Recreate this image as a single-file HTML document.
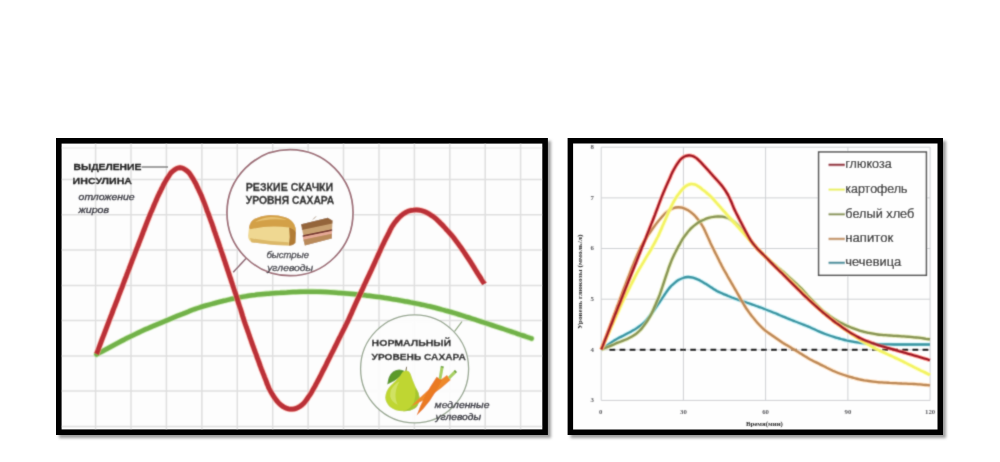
<!DOCTYPE html>
<html><head><meta charset="utf-8">
<style>
html,body{margin:0;padding:0;background:#ffffff;}
body{width:1000px;height:462px;overflow:hidden;font-family:"Liberation Sans",sans-serif;}
svg{display:block;}
.b{font-family:"Liberation Sans",sans-serif;font-weight:bold;font-size:10.2px;fill:#262626;stroke:#262626;stroke-width:0.3px;}
.b.s{font-size:9.1px;}
.b.m{font-size:9.7px;}
.b.s2{font-size:9.8px;}
.i{font-family:"Liberation Sans",sans-serif;font-style:italic;font-size:9.4px;fill:#3e3e46;stroke:#3e3e46;stroke-width:0.35px;}
.lg{font-family:"Liberation Sans",sans-serif;font-size:12.2px;fill:#282828;stroke:#282828;stroke-width:0.22px;}
.tk{font-family:"Liberation Serif",serif;font-weight:bold;font-size:6.8px;fill:#5a5a5e;}
.ax{font-family:"Liberation Serif",serif;font-weight:bold;font-size:6px;fill:#2c2c2c;}
</style></head>
<body>
<svg width="1000" height="462" viewBox="0 0 1000 462">
<defs>
<filter id="sh" x="-5%" y="-5%" width="110%" height="110%"><feGaussianBlur stdDeviation="1.6"/></filter>
<filter id="soft" x="-2%" y="-2%" width="104%" height="104%"><feConvolveMatrix order="3" kernelMatrix="1 4 1 4 20 4 1 4 1" divisor="40" edgeMode="duplicate" preserveAlpha="false"/></filter>
<clipPath id="clipL"><rect x="61.6" y="143.6" width="480.7" height="285.8"/></clipPath>
<clipPath id="clipR"><rect x="573.1" y="143.5" width="364.4" height="286.0"/></clipPath>
</defs>
<rect width="1000" height="462" fill="#ffffff"/>
<g>
<rect x="59.0" y="141.0" width="491.9" height="297.0" fill="#9c9c9c" filter="url(#sh)"/>
<rect x="56.0" y="138.0" width="491.9" height="297.0" fill="#000"/>
<rect x="61.6" y="143.6" width="480.7" height="285.8" fill="#fdfdfd"/>
<g clip-path="url(#clipL)"><g filter="url(#soft)">
<path d="M61.6,148 H542.3" stroke="#ebebeb" stroke-width="1.4" fill="none"/>
<path d="M95.6,143.6 V429.4 M131.0,143.6 V429.4 M166.4,143.6 V429.4 M201.9,143.6 V429.4 M237.3,143.6 V429.4 M272.7,143.6 V429.4 M308.1,143.6 V429.4 M343.5,143.6 V429.4 M379.0,143.6 V429.4 M414.4,143.6 V429.4 M449.8,143.6 V429.4 M485.2,143.6 V429.4 M520.6,143.6 V429.4 M61.6,179.6 H542.3 M61.6,214.8 H542.3 M61.6,250.1 H542.3 M61.6,285.4 H542.3 M61.6,320.6 H542.3 M61.6,355.9 H542.3 M61.6,391.1 H542.3 M61.6,426.4 H542.3" stroke="#dfdfdf" stroke-width="1.5" fill="none"/>
<path d="M96.5,354.5 C97.4,354.0 100.2,352.5 102.0,351.5 C103.9,350.5 105.7,349.5 107.6,348.5 C109.4,347.5 111.3,346.5 113.1,345.5 C115.0,344.5 116.8,343.5 118.7,342.5 C120.5,341.5 122.4,340.5 124.3,339.6 C126.1,338.6 128.0,337.7 129.9,336.7 C131.8,335.8 133.7,334.9 135.6,334.0 C137.5,333.1 139.5,332.2 141.4,331.3 C143.3,330.4 145.2,329.5 147.2,328.7 C149.1,327.8 151.1,326.9 153.0,326.1 C155.0,325.2 157.0,324.4 159.0,323.6 C161.0,322.7 163.0,321.9 165.0,321.1 C167.0,320.2 169.0,319.4 171.0,318.6 C172.9,317.8 174.9,317.0 176.8,316.2 C178.8,315.4 180.7,314.6 182.7,313.9 C184.6,313.1 186.5,312.3 188.4,311.6 C190.4,310.8 192.3,310.1 194.2,309.3 C196.2,308.6 198.1,307.9 200.1,307.3 C202.0,306.6 204.0,306.1 206.0,305.5 C208.0,304.9 210.0,304.4 212.0,303.9 C214.0,303.3 216.0,302.8 218.0,302.3 C220.0,301.8 222.0,301.3 224.0,300.8 C226.0,300.3 228.0,299.9 230.0,299.4 C232.0,299.0 234.0,298.5 236.1,298.1 C238.1,297.7 240.2,297.3 242.3,296.9 C244.4,296.5 246.5,296.2 248.6,295.8 C250.7,295.5 252.8,295.2 254.8,295.0 C256.9,294.7 258.9,294.5 261.0,294.3 C263.0,294.1 265.0,293.9 267.1,293.7 C269.2,293.5 271.3,293.4 273.5,293.2 C275.6,293.0 277.8,292.9 280.0,292.8 C282.2,292.6 284.4,292.5 286.7,292.4 C288.9,292.2 291.1,292.1 293.3,292.0 C295.6,292.0 297.8,291.9 300.0,291.8 C302.2,291.8 304.4,291.7 306.7,291.7 C308.9,291.7 311.1,291.7 313.3,291.7 C315.6,291.7 317.8,291.8 320.0,291.8 C322.2,291.9 324.4,292.0 326.7,292.1 C328.9,292.2 331.1,292.3 333.3,292.4 C335.6,292.6 337.8,292.7 340.0,292.9 C342.2,293.1 344.4,293.3 346.6,293.5 C348.8,293.7 351.0,293.9 353.1,294.1 C355.3,294.3 357.5,294.5 359.6,294.7 C361.7,295.0 363.9,295.2 366.0,295.4 C368.1,295.7 370.3,295.9 372.4,296.2 C374.5,296.5 376.7,296.8 378.8,297.0 C380.9,297.3 383.1,297.6 385.2,298.0 C387.3,298.3 389.5,298.6 391.6,299.0 C393.7,299.3 395.9,299.7 398.0,300.0 C400.1,300.4 402.3,300.8 404.4,301.2 C406.5,301.6 408.6,301.9 410.7,302.4 C412.9,302.8 414.9,303.2 417.0,303.6 C419.1,304.0 421.1,304.5 423.2,304.9 C425.2,305.4 427.3,305.8 429.3,306.3 C431.3,306.8 433.3,307.3 435.3,307.8 C437.3,308.3 439.3,308.8 441.2,309.4 C443.2,309.9 445.2,310.5 447.1,311.0 C449.1,311.6 451.1,312.1 453.0,312.7 C455.0,313.3 457.0,313.9 458.9,314.5 C460.9,315.1 462.8,315.7 464.8,316.3 C466.7,316.9 468.7,317.6 470.6,318.2 C472.6,318.8 474.6,319.5 476.6,320.1 C478.6,320.8 480.6,321.4 482.7,322.1 C484.8,322.8 486.9,323.5 489.0,324.2 C491.1,324.9 493.3,325.6 495.4,326.3 C497.5,327.0 499.6,327.7 501.7,328.4 C503.8,329.1 505.8,329.8 507.8,330.5 C509.9,331.2 511.8,331.8 513.8,332.5 C515.8,333.2 517.8,333.8 519.7,334.5 C521.7,335.2 523.6,335.8 525.6,336.5 C527.6,337.2 530.5,338.2 531.5,338.5" stroke="#b9e49a" stroke-width="6.2" fill="none" stroke-linecap="round" stroke-opacity="0.7"/>
<path d="M96.5,354.5 C97.4,354.0 100.2,352.5 102.0,351.5 C103.9,350.5 105.7,349.5 107.6,348.5 C109.4,347.5 111.3,346.5 113.1,345.5 C115.0,344.5 116.8,343.5 118.7,342.5 C120.5,341.5 122.4,340.5 124.3,339.6 C126.1,338.6 128.0,337.7 129.9,336.7 C131.8,335.8 133.7,334.9 135.6,334.0 C137.5,333.1 139.5,332.2 141.4,331.3 C143.3,330.4 145.2,329.5 147.2,328.7 C149.1,327.8 151.1,326.9 153.0,326.1 C155.0,325.2 157.0,324.4 159.0,323.6 C161.0,322.7 163.0,321.9 165.0,321.1 C167.0,320.2 169.0,319.4 171.0,318.6 C172.9,317.8 174.9,317.0 176.8,316.2 C178.8,315.4 180.7,314.6 182.7,313.9 C184.6,313.1 186.5,312.3 188.4,311.6 C190.4,310.8 192.3,310.1 194.2,309.3 C196.2,308.6 198.1,307.9 200.1,307.3 C202.0,306.6 204.0,306.1 206.0,305.5 C208.0,304.9 210.0,304.4 212.0,303.9 C214.0,303.3 216.0,302.8 218.0,302.3 C220.0,301.8 222.0,301.3 224.0,300.8 C226.0,300.3 228.0,299.9 230.0,299.4 C232.0,299.0 234.0,298.5 236.1,298.1 C238.1,297.7 240.2,297.3 242.3,296.9 C244.4,296.5 246.5,296.2 248.6,295.8 C250.7,295.5 252.8,295.2 254.8,295.0 C256.9,294.7 258.9,294.5 261.0,294.3 C263.0,294.1 265.0,293.9 267.1,293.7 C269.2,293.5 271.3,293.4 273.5,293.2 C275.6,293.0 277.8,292.9 280.0,292.8 C282.2,292.6 284.4,292.5 286.7,292.4 C288.9,292.2 291.1,292.1 293.3,292.0 C295.6,292.0 297.8,291.9 300.0,291.8 C302.2,291.8 304.4,291.7 306.7,291.7 C308.9,291.7 311.1,291.7 313.3,291.7 C315.6,291.7 317.8,291.8 320.0,291.8 C322.2,291.9 324.4,292.0 326.7,292.1 C328.9,292.2 331.1,292.3 333.3,292.4 C335.6,292.6 337.8,292.7 340.0,292.9 C342.2,293.1 344.4,293.3 346.6,293.5 C348.8,293.7 351.0,293.9 353.1,294.1 C355.3,294.3 357.5,294.5 359.6,294.7 C361.7,295.0 363.9,295.2 366.0,295.4 C368.1,295.7 370.3,295.9 372.4,296.2 C374.5,296.5 376.7,296.8 378.8,297.0 C380.9,297.3 383.1,297.6 385.2,298.0 C387.3,298.3 389.5,298.6 391.6,299.0 C393.7,299.3 395.9,299.7 398.0,300.0 C400.1,300.4 402.3,300.8 404.4,301.2 C406.5,301.6 408.6,301.9 410.7,302.4 C412.9,302.8 414.9,303.2 417.0,303.6 C419.1,304.0 421.1,304.5 423.2,304.9 C425.2,305.4 427.3,305.8 429.3,306.3 C431.3,306.8 433.3,307.3 435.3,307.8 C437.3,308.3 439.3,308.8 441.2,309.4 C443.2,309.9 445.2,310.5 447.1,311.0 C449.1,311.6 451.1,312.1 453.0,312.7 C455.0,313.3 457.0,313.9 458.9,314.5 C460.9,315.1 462.8,315.7 464.8,316.3 C466.7,316.9 468.7,317.6 470.6,318.2 C472.6,318.8 474.6,319.5 476.6,320.1 C478.6,320.8 480.6,321.4 482.7,322.1 C484.8,322.8 486.9,323.5 489.0,324.2 C491.1,324.9 493.3,325.6 495.4,326.3 C497.5,327.0 499.6,327.7 501.7,328.4 C503.8,329.1 505.8,329.8 507.8,330.5 C509.9,331.2 511.8,331.8 513.8,332.5 C515.8,333.2 517.8,333.8 519.7,334.5 C521.7,335.2 523.6,335.8 525.6,336.5 C527.6,337.2 530.5,338.2 531.5,338.5" stroke="#72b24a" stroke-width="4.5" fill="none" stroke-linecap="round"/>
<path d="M96.5,354.0 C96.8,353.3 97.5,351.4 98.0,350.1 C98.5,348.7 99.0,347.4 99.5,346.1 C100.0,344.8 100.5,343.5 101.0,342.2 C101.5,340.9 102.0,339.5 102.5,338.2 C103.0,336.9 103.5,335.6 104.0,334.3 C104.5,333.0 105.0,331.6 105.5,330.3 C106.0,329.0 106.5,327.7 107.0,326.4 C107.5,325.1 108.0,323.8 108.5,322.4 C109.0,321.1 109.5,319.8 110.0,318.5 C110.5,317.2 111.0,315.9 111.5,314.7 C112.0,313.4 112.5,312.1 112.9,310.8 C113.4,309.5 113.9,308.3 114.4,307.0 C114.9,305.7 115.4,304.4 115.9,303.1 C116.4,301.9 116.9,300.6 117.4,299.3 C117.9,298.0 118.4,296.7 118.8,295.4 C119.3,294.2 119.8,292.9 120.3,291.6 C120.8,290.3 121.3,289.0 121.8,287.8 C122.3,286.5 122.8,285.2 123.3,283.9 C123.8,282.6 124.2,281.4 124.7,280.1 C125.2,278.8 125.7,277.6 126.2,276.3 C126.6,275.1 127.1,273.8 127.6,272.6 C128.1,271.3 128.6,270.0 129.1,268.8 C129.5,267.5 130.0,266.3 130.5,265.0 C131.0,263.7 131.5,262.5 131.9,261.2 C132.4,260.0 132.9,258.7 133.4,257.4 C133.9,256.2 134.4,254.9 134.8,253.7 C135.3,252.4 135.8,251.2 136.3,249.9 C136.8,248.6 137.3,247.3 137.8,246.1 C138.2,244.8 138.8,243.5 139.3,242.2 C139.7,240.9 140.3,239.6 140.8,238.3 C141.3,237.0 141.8,235.7 142.3,234.4 C142.8,233.1 143.2,231.9 143.8,230.6 C144.2,229.3 144.8,228.0 145.3,226.7 C145.8,225.4 146.2,224.1 146.8,222.8 C147.3,221.5 147.7,220.2 148.3,218.9 C148.8,217.7 149.3,216.4 149.8,215.1 C150.4,213.8 150.9,212.5 151.5,211.3 C152.0,210.0 152.5,208.7 153.1,207.5 C153.6,206.2 154.2,204.9 154.7,203.6 C155.3,202.4 155.8,201.1 156.4,199.8 C156.9,198.5 157.4,197.3 158.0,196.0 C158.7,194.7 159.3,193.3 160.0,192.0 C160.7,190.7 161.3,189.3 162.0,188.0 C162.7,186.7 163.3,185.3 164.0,184.0 C164.7,182.7 165.4,181.4 166.2,180.1 C167.0,178.8 167.8,177.5 168.6,176.3 C169.4,175.1 170.2,173.7 171.1,172.7 C172.1,171.6 173.2,170.6 174.3,169.9 C175.5,169.1 176.7,168.3 178.0,168.0 C179.3,167.7 180.7,167.7 182.0,168.0 C183.3,168.3 184.5,169.1 185.7,169.9 C186.8,170.6 187.9,171.6 188.9,172.7 C189.8,173.7 190.6,175.1 191.4,176.3 C192.2,177.5 193.0,178.8 193.8,180.1 C194.5,181.4 195.2,182.6 195.9,183.9 C196.5,185.1 197.0,186.4 197.6,187.6 C198.2,188.9 198.8,190.1 199.4,191.4 C200.0,192.6 200.6,193.9 201.1,195.1 C201.7,196.4 202.2,197.7 202.7,199.0 C203.3,200.3 203.7,201.7 204.3,203.0 C204.8,204.3 205.3,205.7 205.8,207.0 C206.3,208.3 206.8,209.7 207.2,211.0 C207.8,212.3 208.3,213.7 208.8,215.0 C209.2,216.3 209.8,217.7 210.2,219.0 C210.7,220.3 211.2,221.7 211.7,223.0 C212.2,224.3 212.6,225.7 213.1,227.0 C213.5,228.3 214.0,229.7 214.4,231.0 C214.9,232.3 215.4,233.7 215.8,235.0 C216.3,236.3 216.7,237.7 217.2,239.0 C217.6,240.3 218.1,241.7 218.6,243.0 C219.0,244.3 219.5,245.7 219.9,247.0 C220.4,248.3 220.9,249.7 221.3,251.0 C221.8,252.3 222.2,253.6 222.6,254.9 C223.1,256.2 223.5,257.5 223.9,258.7 C224.3,260.0 224.8,261.3 225.2,262.5 C225.6,263.8 226.0,265.1 226.5,266.4 C226.9,267.6 227.3,268.9 227.7,270.2 C228.2,271.5 228.6,272.7 229.0,274.0 C229.4,275.3 229.8,276.5 230.3,277.8 C230.7,279.1 231.1,280.4 231.5,281.6 C232.0,282.9 232.4,284.2 232.8,285.5 C233.2,286.7 233.7,288.0 234.1,289.3 C234.5,290.5 234.9,291.8 235.4,293.1 C235.8,294.4 236.2,295.6 236.6,296.9 C237.0,298.2 237.4,299.5 237.8,300.8 C238.2,302.1 238.6,303.3 239.0,304.6 C239.4,305.9 239.8,307.2 240.3,308.5 C240.7,309.7 241.1,311.0 241.5,312.3 C241.9,313.6 242.3,314.9 242.7,316.2 C243.1,317.4 243.5,318.7 243.9,320.0 C244.3,321.3 244.8,322.5 245.2,323.8 C245.7,325.0 246.1,326.3 246.5,327.6 C247.0,328.8 247.4,330.1 247.9,331.4 C248.3,332.6 248.7,333.9 249.2,335.1 C249.6,336.4 250.0,337.7 250.5,338.9 C250.9,340.2 251.4,341.4 251.8,342.7 C252.3,344.0 252.7,345.3 253.2,346.5 C253.7,347.8 254.1,349.1 254.6,350.4 C255.1,351.7 255.5,353.0 256.0,354.2 C256.5,355.5 256.9,356.8 257.4,358.1 C257.9,359.4 258.3,360.6 258.8,361.9 C259.3,363.2 259.7,364.5 260.2,365.8 C260.7,367.0 261.1,368.3 261.6,369.6 C262.1,370.8 262.6,372.0 263.1,373.3 C263.6,374.5 264.1,375.8 264.5,377.0 C265.0,378.3 265.5,379.5 266.0,380.7 C266.5,382.0 266.9,383.2 267.4,384.5 C268.0,385.7 268.4,386.9 269.0,388.3 C269.7,389.6 270.5,391.1 271.3,392.6 C272.2,394.1 273.1,395.7 274.1,397.1 C275.1,398.6 276.2,400.2 277.4,401.5 C278.5,402.8 279.6,403.9 280.8,404.9 C282.0,405.9 283.2,406.8 284.5,407.4 C285.8,408.1 287.2,408.6 288.5,408.9 C289.8,409.1 291.2,409.2 292.5,409.1 C293.8,409.0 295.2,408.7 296.4,408.2 C297.7,407.7 299.0,407.0 300.2,406.2 C301.4,405.4 302.6,404.4 303.6,403.4 C304.6,402.4 305.5,401.2 306.3,400.1 C307.2,399.0 307.8,397.8 308.6,396.7 C309.4,395.6 310.1,394.5 310.9,393.3 C311.6,392.1 312.3,391.0 313.0,389.7 C313.7,388.5 314.3,387.3 315.0,386.1 C315.7,384.8 316.3,383.6 317.0,382.4 C317.7,381.1 318.3,379.9 319.0,378.7 C319.6,377.4 320.3,376.2 320.9,375.0 C321.5,373.8 322.1,372.6 322.7,371.3 C323.3,370.1 323.9,368.9 324.6,367.7 C325.2,366.5 325.8,365.3 326.4,364.1 C327.0,362.8 327.6,361.6 328.2,360.4 C328.8,359.2 329.4,358.0 330.0,356.8 C330.6,355.6 331.2,354.4 331.8,353.2 C332.4,352.0 333.0,350.8 333.7,349.6 C334.3,348.3 334.9,347.1 335.5,345.9 C336.1,344.7 336.7,343.5 337.3,342.3 C337.9,341.1 338.5,339.9 339.1,338.6 C339.7,337.4 340.4,336.2 341.0,334.9 C341.6,333.7 342.2,332.4 342.8,331.2 C343.5,329.9 344.1,328.7 344.7,327.5 C345.3,326.2 345.9,325.0 346.5,323.7 C347.2,322.5 347.8,321.2 348.4,320.0 C349.0,318.7 349.6,317.4 350.1,316.1 C350.7,314.8 351.3,313.5 351.9,312.2 C352.4,310.9 353.0,309.6 353.6,308.3 C354.2,307.0 354.8,305.7 355.3,304.4 C355.9,303.1 356.5,301.8 357.1,300.5 C357.7,299.2 358.3,298.0 358.9,296.7 C359.5,295.4 360.1,294.1 360.7,292.9 C361.3,291.6 361.9,290.3 362.5,289.1 C363.1,287.8 363.7,286.5 364.2,285.2 C364.8,284.0 365.4,282.7 366.0,281.4 C366.6,280.2 367.2,278.9 367.8,277.6 C368.4,276.4 369.0,275.1 369.6,273.8 C370.2,272.5 370.8,271.3 371.4,270.0 C372.0,268.7 372.6,267.4 373.1,266.2 C373.7,264.9 374.3,263.6 374.9,262.3 C375.5,261.0 376.0,259.7 376.6,258.5 C377.2,257.2 377.8,255.9 378.4,254.6 C378.9,253.3 379.5,252.1 380.1,250.8 C380.7,249.5 381.2,248.2 381.8,246.9 C382.4,245.7 383.0,244.4 383.6,243.2 C384.2,242.0 384.8,240.8 385.4,239.5 C386.0,238.3 386.6,237.1 387.3,235.9 C387.9,234.7 388.5,233.5 389.1,232.3 C389.7,231.0 390.2,229.8 390.9,228.6 C391.5,227.4 392.2,226.3 393.0,225.2 C393.7,224.1 394.5,223.0 395.3,221.9 C396.2,220.9 397.0,219.8 398.0,218.8 C398.9,217.7 399.9,216.7 401.1,215.7 C402.2,214.7 403.7,213.6 405.0,212.9 C406.3,212.1 407.5,211.5 408.9,211.0 C410.3,210.6 411.8,210.2 413.4,210.1 C415.1,209.9 417.2,209.9 418.9,210.1 C420.5,210.3 422.0,210.7 423.4,211.2 C424.9,211.7 426.4,212.4 427.7,213.1 C429.0,213.8 430.2,214.6 431.4,215.4 C432.6,216.2 433.8,216.9 434.9,217.8 C436.0,218.7 437.0,219.7 438.0,220.7 C439.1,221.7 440.1,222.7 441.1,223.8 C442.1,224.8 443.1,225.8 444.1,226.9 C445.1,227.9 446.1,229.1 447.1,230.2 C448.1,231.3 449.2,232.5 450.2,233.6 C451.2,234.7 452.2,235.9 453.1,237.0 C454.1,238.2 454.9,239.4 455.8,240.6 C456.7,241.8 457.5,243.0 458.4,244.1 C459.3,245.3 460.2,246.5 461.0,247.7 C461.8,248.9 462.6,250.1 463.4,251.2 C464.2,252.4 465.0,253.5 465.7,254.6 C466.5,255.8 467.2,256.9 468.0,258.1 C468.7,259.2 469.5,260.3 470.3,261.5 C471.0,262.7 471.8,263.8 472.5,265.1 C473.3,266.3 474.1,267.5 474.8,268.8 C475.6,270.0 476.3,271.2 477.1,272.5 C477.8,273.7 478.6,274.9 479.4,276.2 C480.2,277.4 481.0,278.7 481.8,280.0 C482.7,281.3 484.1,283.3 484.5,284.0" stroke="#ff9a90" stroke-width="6.4" fill="none" stroke-linecap="butt" stroke-linejoin="round" stroke-opacity="0.6"/>
<path d="M96.5,354.0 C96.8,353.3 97.5,351.4 98.0,350.1 C98.5,348.7 99.0,347.4 99.5,346.1 C100.0,344.8 100.5,343.5 101.0,342.2 C101.5,340.9 102.0,339.5 102.5,338.2 C103.0,336.9 103.5,335.6 104.0,334.3 C104.5,333.0 105.0,331.6 105.5,330.3 C106.0,329.0 106.5,327.7 107.0,326.4 C107.5,325.1 108.0,323.8 108.5,322.4 C109.0,321.1 109.5,319.8 110.0,318.5 C110.5,317.2 111.0,315.9 111.5,314.7 C112.0,313.4 112.5,312.1 112.9,310.8 C113.4,309.5 113.9,308.3 114.4,307.0 C114.9,305.7 115.4,304.4 115.9,303.1 C116.4,301.9 116.9,300.6 117.4,299.3 C117.9,298.0 118.4,296.7 118.8,295.4 C119.3,294.2 119.8,292.9 120.3,291.6 C120.8,290.3 121.3,289.0 121.8,287.8 C122.3,286.5 122.8,285.2 123.3,283.9 C123.8,282.6 124.2,281.4 124.7,280.1 C125.2,278.8 125.7,277.6 126.2,276.3 C126.6,275.1 127.1,273.8 127.6,272.6 C128.1,271.3 128.6,270.0 129.1,268.8 C129.5,267.5 130.0,266.3 130.5,265.0 C131.0,263.7 131.5,262.5 131.9,261.2 C132.4,260.0 132.9,258.7 133.4,257.4 C133.9,256.2 134.4,254.9 134.8,253.7 C135.3,252.4 135.8,251.2 136.3,249.9 C136.8,248.6 137.3,247.3 137.8,246.1 C138.2,244.8 138.8,243.5 139.3,242.2 C139.7,240.9 140.3,239.6 140.8,238.3 C141.3,237.0 141.8,235.7 142.3,234.4 C142.8,233.1 143.2,231.9 143.8,230.6 C144.2,229.3 144.8,228.0 145.3,226.7 C145.8,225.4 146.2,224.1 146.8,222.8 C147.3,221.5 147.7,220.2 148.3,218.9 C148.8,217.7 149.3,216.4 149.8,215.1 C150.4,213.8 150.9,212.5 151.5,211.3 C152.0,210.0 152.5,208.7 153.1,207.5 C153.6,206.2 154.2,204.9 154.7,203.6 C155.3,202.4 155.8,201.1 156.4,199.8 C156.9,198.5 157.4,197.3 158.0,196.0 C158.7,194.7 159.3,193.3 160.0,192.0 C160.7,190.7 161.3,189.3 162.0,188.0 C162.7,186.7 163.3,185.3 164.0,184.0 C164.7,182.7 165.4,181.4 166.2,180.1 C167.0,178.8 167.8,177.5 168.6,176.3 C169.4,175.1 170.2,173.7 171.1,172.7 C172.1,171.6 173.2,170.6 174.3,169.9 C175.5,169.1 176.7,168.3 178.0,168.0 C179.3,167.7 180.7,167.7 182.0,168.0 C183.3,168.3 184.5,169.1 185.7,169.9 C186.8,170.6 187.9,171.6 188.9,172.7 C189.8,173.7 190.6,175.1 191.4,176.3 C192.2,177.5 193.0,178.8 193.8,180.1 C194.5,181.4 195.2,182.6 195.9,183.9 C196.5,185.1 197.0,186.4 197.6,187.6 C198.2,188.9 198.8,190.1 199.4,191.4 C200.0,192.6 200.6,193.9 201.1,195.1 C201.7,196.4 202.2,197.7 202.7,199.0 C203.3,200.3 203.7,201.7 204.3,203.0 C204.8,204.3 205.3,205.7 205.8,207.0 C206.3,208.3 206.8,209.7 207.2,211.0 C207.8,212.3 208.3,213.7 208.8,215.0 C209.2,216.3 209.8,217.7 210.2,219.0 C210.7,220.3 211.2,221.7 211.7,223.0 C212.2,224.3 212.6,225.7 213.1,227.0 C213.5,228.3 214.0,229.7 214.4,231.0 C214.9,232.3 215.4,233.7 215.8,235.0 C216.3,236.3 216.7,237.7 217.2,239.0 C217.6,240.3 218.1,241.7 218.6,243.0 C219.0,244.3 219.5,245.7 219.9,247.0 C220.4,248.3 220.9,249.7 221.3,251.0 C221.8,252.3 222.2,253.6 222.6,254.9 C223.1,256.2 223.5,257.5 223.9,258.7 C224.3,260.0 224.8,261.3 225.2,262.5 C225.6,263.8 226.0,265.1 226.5,266.4 C226.9,267.6 227.3,268.9 227.7,270.2 C228.2,271.5 228.6,272.7 229.0,274.0 C229.4,275.3 229.8,276.5 230.3,277.8 C230.7,279.1 231.1,280.4 231.5,281.6 C232.0,282.9 232.4,284.2 232.8,285.5 C233.2,286.7 233.7,288.0 234.1,289.3 C234.5,290.5 234.9,291.8 235.4,293.1 C235.8,294.4 236.2,295.6 236.6,296.9 C237.0,298.2 237.4,299.5 237.8,300.8 C238.2,302.1 238.6,303.3 239.0,304.6 C239.4,305.9 239.8,307.2 240.3,308.5 C240.7,309.7 241.1,311.0 241.5,312.3 C241.9,313.6 242.3,314.9 242.7,316.2 C243.1,317.4 243.5,318.7 243.9,320.0 C244.3,321.3 244.8,322.5 245.2,323.8 C245.7,325.0 246.1,326.3 246.5,327.6 C247.0,328.8 247.4,330.1 247.9,331.4 C248.3,332.6 248.7,333.9 249.2,335.1 C249.6,336.4 250.0,337.7 250.5,338.9 C250.9,340.2 251.4,341.4 251.8,342.7 C252.3,344.0 252.7,345.3 253.2,346.5 C253.7,347.8 254.1,349.1 254.6,350.4 C255.1,351.7 255.5,353.0 256.0,354.2 C256.5,355.5 256.9,356.8 257.4,358.1 C257.9,359.4 258.3,360.6 258.8,361.9 C259.3,363.2 259.7,364.5 260.2,365.8 C260.7,367.0 261.1,368.3 261.6,369.6 C262.1,370.8 262.6,372.0 263.1,373.3 C263.6,374.5 264.1,375.8 264.5,377.0 C265.0,378.3 265.5,379.5 266.0,380.7 C266.5,382.0 266.9,383.2 267.4,384.5 C268.0,385.7 268.4,386.9 269.0,388.3 C269.7,389.6 270.5,391.1 271.3,392.6 C272.2,394.1 273.1,395.7 274.1,397.1 C275.1,398.6 276.2,400.2 277.4,401.5 C278.5,402.8 279.6,403.9 280.8,404.9 C282.0,405.9 283.2,406.8 284.5,407.4 C285.8,408.1 287.2,408.6 288.5,408.9 C289.8,409.1 291.2,409.2 292.5,409.1 C293.8,409.0 295.2,408.7 296.4,408.2 C297.7,407.7 299.0,407.0 300.2,406.2 C301.4,405.4 302.6,404.4 303.6,403.4 C304.6,402.4 305.5,401.2 306.3,400.1 C307.2,399.0 307.8,397.8 308.6,396.7 C309.4,395.6 310.1,394.5 310.9,393.3 C311.6,392.1 312.3,391.0 313.0,389.7 C313.7,388.5 314.3,387.3 315.0,386.1 C315.7,384.8 316.3,383.6 317.0,382.4 C317.7,381.1 318.3,379.9 319.0,378.7 C319.6,377.4 320.3,376.2 320.9,375.0 C321.5,373.8 322.1,372.6 322.7,371.3 C323.3,370.1 323.9,368.9 324.6,367.7 C325.2,366.5 325.8,365.3 326.4,364.1 C327.0,362.8 327.6,361.6 328.2,360.4 C328.8,359.2 329.4,358.0 330.0,356.8 C330.6,355.6 331.2,354.4 331.8,353.2 C332.4,352.0 333.0,350.8 333.7,349.6 C334.3,348.3 334.9,347.1 335.5,345.9 C336.1,344.7 336.7,343.5 337.3,342.3 C337.9,341.1 338.5,339.9 339.1,338.6 C339.7,337.4 340.4,336.2 341.0,334.9 C341.6,333.7 342.2,332.4 342.8,331.2 C343.5,329.9 344.1,328.7 344.7,327.5 C345.3,326.2 345.9,325.0 346.5,323.7 C347.2,322.5 347.8,321.2 348.4,320.0 C349.0,318.7 349.6,317.4 350.1,316.1 C350.7,314.8 351.3,313.5 351.9,312.2 C352.4,310.9 353.0,309.6 353.6,308.3 C354.2,307.0 354.8,305.7 355.3,304.4 C355.9,303.1 356.5,301.8 357.1,300.5 C357.7,299.2 358.3,298.0 358.9,296.7 C359.5,295.4 360.1,294.1 360.7,292.9 C361.3,291.6 361.9,290.3 362.5,289.1 C363.1,287.8 363.7,286.5 364.2,285.2 C364.8,284.0 365.4,282.7 366.0,281.4 C366.6,280.2 367.2,278.9 367.8,277.6 C368.4,276.4 369.0,275.1 369.6,273.8 C370.2,272.5 370.8,271.3 371.4,270.0 C372.0,268.7 372.6,267.4 373.1,266.2 C373.7,264.9 374.3,263.6 374.9,262.3 C375.5,261.0 376.0,259.7 376.6,258.5 C377.2,257.2 377.8,255.9 378.4,254.6 C378.9,253.3 379.5,252.1 380.1,250.8 C380.7,249.5 381.2,248.2 381.8,246.9 C382.4,245.7 383.0,244.4 383.6,243.2 C384.2,242.0 384.8,240.8 385.4,239.5 C386.0,238.3 386.6,237.1 387.3,235.9 C387.9,234.7 388.5,233.5 389.1,232.3 C389.7,231.0 390.2,229.8 390.9,228.6 C391.5,227.4 392.2,226.3 393.0,225.2 C393.7,224.1 394.5,223.0 395.3,221.9 C396.2,220.9 397.0,219.8 398.0,218.8 C398.9,217.7 399.9,216.7 401.1,215.7 C402.2,214.7 403.7,213.6 405.0,212.9 C406.3,212.1 407.5,211.5 408.9,211.0 C410.3,210.6 411.8,210.2 413.4,210.1 C415.1,209.9 417.2,209.9 418.9,210.1 C420.5,210.3 422.0,210.7 423.4,211.2 C424.9,211.7 426.4,212.4 427.7,213.1 C429.0,213.8 430.2,214.6 431.4,215.4 C432.6,216.2 433.8,216.9 434.9,217.8 C436.0,218.7 437.0,219.7 438.0,220.7 C439.1,221.7 440.1,222.7 441.1,223.8 C442.1,224.8 443.1,225.8 444.1,226.9 C445.1,227.9 446.1,229.1 447.1,230.2 C448.1,231.3 449.2,232.5 450.2,233.6 C451.2,234.7 452.2,235.9 453.1,237.0 C454.1,238.2 454.9,239.4 455.8,240.6 C456.7,241.8 457.5,243.0 458.4,244.1 C459.3,245.3 460.2,246.5 461.0,247.7 C461.8,248.9 462.6,250.1 463.4,251.2 C464.2,252.4 465.0,253.5 465.7,254.6 C466.5,255.8 467.2,256.9 468.0,258.1 C468.7,259.2 469.5,260.3 470.3,261.5 C471.0,262.7 471.8,263.8 472.5,265.1 C473.3,266.3 474.1,267.5 474.8,268.8 C475.6,270.0 476.3,271.2 477.1,272.5 C477.8,273.7 478.6,274.9 479.4,276.2 C480.2,277.4 481.0,278.7 481.8,280.0 C482.7,281.3 484.1,283.3 484.5,284.0" stroke="#b6252e" stroke-width="4.8" fill="none" stroke-linecap="butt" stroke-linejoin="round" stroke-opacity="0.93"/>
<line x1="246" y1="258.5" x2="233.2" y2="272.2" stroke="#8c6470" stroke-width="1.4"/>
<circle cx="290" cy="212.7" r="63" fill="#fdfdfd" stroke="#9c6a74" stroke-width="1.7"/>
<g><path d="M248.9,228 Q250,221 254.6,218.8 Q261,215.6 269.2,215.1 Q278,214.9 285.5,217.2 Q292,219.5 294.4,224.5 Q296.3,228.5 296,232.6 L295.4,243 Q293,246 288.7,245.6 Q270,245.2 251.4,242.3 Q248,240 248.1,235.8 Z" fill="#efd892"/><path d="M248.9,228 Q250,221 254.6,218.8 Q261,215.6 269.2,215.1 Q278,214.9 285.5,217.2 Q292,219.5 294.4,224.5 Q296.3,228.5 296,232.6 Q294.5,228.5 289,227.6 Q270,224.6 250.5,229.2 Z" fill="#d3a046"/><path d="M255,222 Q262,217.4 271,217 Q280,217 287,220 Q278,218.8 270,219.4 Q262,220 255,222 Z" fill="#e6c070"/><path d="M289,227.6 Q294.5,228.5 296,232.6 L295.4,243 Q293,246 288.7,245.6 Q290.5,237 289,227.6 Z" fill="#b27c34"/><path d="M250,238 Q270,241.8 288.5,242.2 L288.7,245.6 Q270,245.2 251.4,242.3 Z" fill="#dcb868"/></g>
<g><path d="M301,224.3 L327.7,217.7 L332.5,220.4 L331.8,238.4 L304.9,245.4 L301.7,227 Z" fill="#c9a272"/><path d="M301,224.3 L327.7,217.7 L332.5,220.4 L332.4,223.6 L301.9,230 L301.7,227 Z" fill="#94653a"/><path d="M302.6,235.2 L332.1,229.2 L332.1,231 L302.8,237 Z" fill="#6e2626"/><path d="M302.8,237 L332.1,231 L332,233.8 L303.2,239.8 Z" fill="#e6a896"/><path d="M303.2,239.8 L332,233.8 L331.8,238.4 L304.9,245.4 Z" fill="#b98a5a"/><path d="M313,219.5 L316,216.4" stroke="#7a5a3a" stroke-width="0.6" fill="none"/></g>
<text x="245.8" y="190.6" class="b" textLength="87.4" lengthAdjust="spacingAndGlyphs">РЕЗКИЕ СКАЧКИ</text>
<text x="245.8" y="203.6" class="b" textLength="88.4" lengthAdjust="spacingAndGlyphs">УРОВНЯ САХАРА</text>
<text x="266.4" y="258.2" class="i" textLength="42.6" lengthAdjust="spacingAndGlyphs">быстрые</text>
<text x="267.2" y="271.2" class="i" textLength="46" lengthAdjust="spacingAndGlyphs">углеводы</text>
<line x1="454.5" y1="331.5" x2="462" y2="321.5" stroke="#8aa27c" stroke-width="1.2"/>
<circle cx="414.6" cy="368.8" r="54" fill="#fdfdfd" fill-opacity="0.94" stroke="#96a690" stroke-width="1.3"/>
<g><path d="M405.5,371.4 Q399,367.6 393,371.6 Q388,375.5 387.3,384.6 Q390,383 394.2,381 Q399,378 405.5,371.4 Z" fill="#5c9a2c"/><path d="M406.6,366.8 L405.9,371.2" stroke="#6a5a2a" stroke-width="1" fill="none"/><path d="M405.5,370.6 Q409,370.2 410.7,374 Q412.6,380 415.4,386.2 Q419.2,392 419.7,398.3 Q419.6,404 415.9,407.8 Q410,411.8 402.9,411.3 Q395,411 389.9,406.9 Q385.4,402.6 385.2,397.4 Q385.6,390.6 390.8,385.3 Q396,380.6 400.3,375.8 Q402.6,371.2 405.5,370.6 Z" fill="#bfd632"/><path d="M391,390 Q394,384 399.5,381.5 Q396,387 395.5,394 Q395.2,401 398,405 Q391.5,402 390.2,396.5 Q390,393 391,390 Z" fill="#d2e46c" fill-opacity="0.85"/><path d="M415.4,388 Q419.2,392 419.7,398.3 Q419.6,404 415.9,407.8 Q410,411.8 402.9,411.3 Q411,409 414,402 Q416,396 415.4,388 Z" fill="#9dc22e" fill-opacity="0.8"/></g>
<g><path d="M411.2,406.3 Q426,390.5 446.9,375 L450.7,380 Q431.5,398 411.2,406.3 Z" fill="#ee8a2c"/><path d="M416.6,415.4 Q423,396.5 436.6,376.7 L442,380.1 Q431,403.5 416.6,415.4 Z" fill="#ea7a20"/><path d="M438.6,378.6 L440.4,367.6 L443.6,368 L441.4,379.6 Z" fill="#a8d060"/><path d="M448,376.8 L453.6,371 L455.8,373.4 L450,379.2 Z" fill="#a8d060"/><path d="M440.4,367.6 L441,365.8 L443.8,366.4 L443.6,368 Z M453.6,371 L455,369.8 L457,372 L455.8,373.4 Z" fill="#6aa32c"/></g>
<text x="371.6" y="346.2" class="b m" textLength="79.6" lengthAdjust="spacingAndGlyphs">НОРМАЛЬНЫЙ</text>
<text x="371.6" y="360.2" class="b m" textLength="94.2" lengthAdjust="spacingAndGlyphs">УРОВЕНЬ САХАРА</text>
<text x="434.6" y="408" class="i" textLength="54.8" lengthAdjust="spacingAndGlyphs">медленные</text>
<text x="435.4" y="420.3" class="i" textLength="45.6" lengthAdjust="spacingAndGlyphs">углеводы</text>
<line x1="141.5" y1="167" x2="168" y2="167" stroke="#666" stroke-width="1.2"/>
<text x="73.6" y="170.3" class="b s" textLength="67.8" lengthAdjust="spacingAndGlyphs">ВЫДЕЛЕНИЕ</text>
<text x="72.6" y="183.8" class="b s2" textLength="59.4" lengthAdjust="spacingAndGlyphs">ИНСУЛИНА</text>
<text x="78.6" y="200" class="i" textLength="56" lengthAdjust="spacingAndGlyphs">отложение</text>
<text x="78.6" y="212.6" class="i" textLength="30.4" lengthAdjust="spacingAndGlyphs">жиров</text>
</g></g>
<rect x="570.6" y="141.0" width="375.4" height="297.0" fill="#9c9c9c" filter="url(#sh)"/>
<rect x="567.6" y="138.0" width="375.4" height="297.0" fill="#000"/>
<rect x="573.1" y="143.5" width="364.4" height="286.0" fill="#fefefe"/>
<g clip-path="url(#clipR)"><g filter="url(#soft)">
<path d="M601.2,147.2 V400.4 M683.4,147.2 V400.4 M765.6,147.2 V400.4 M847.9,147.2 V400.4 M930.1,147.2 V400.4 M601.2,400.4 H930.1 M601.2,349.8 H930.1 M601.2,299.2 H930.1 M601.2,248.5 H930.1 M601.2,197.9 H930.1 M601.2,147.2 H930.1" stroke="#cfd1d4" stroke-width="1" fill="none"/>
<path d="M609.4,349.8 H930.1" stroke="#1c1c1c" stroke-width="2" stroke-dasharray="5.9 4.2" fill="none"/>
<path d="M601.3,349.5 C601.9,349.0 603.9,347.6 605.1,346.8 C606.4,345.9 607.7,344.9 608.9,344.1 C610.1,343.3 611.2,342.6 612.4,341.8 C613.6,341.0 614.6,340.3 615.9,339.6 C617.1,338.8 618.5,338.1 619.9,337.3 C621.3,336.6 623.0,335.8 624.5,335.0 C626.1,334.2 627.7,333.4 629.2,332.6 C630.6,331.8 632.0,331.1 633.3,330.3 C634.5,329.6 635.6,328.9 636.8,328.1 C638.0,327.3 639.1,326.5 640.3,325.6 C641.5,324.7 642.7,323.8 643.8,322.8 C644.9,321.9 646.0,320.8 646.9,319.7 C647.8,318.7 648.6,317.5 649.5,316.4 C650.3,315.2 651.1,314.1 652.0,312.9 C652.8,311.8 653.7,310.7 654.5,309.5 C655.3,308.4 656.1,307.2 656.9,306.1 C657.7,305.0 658.5,303.8 659.2,302.7 C660.0,301.6 660.7,300.5 661.5,299.3 C662.2,298.2 663.0,297.1 663.7,296.0 C664.5,294.8 665.2,293.7 666.0,292.6 C666.8,291.4 667.5,290.3 668.4,289.2 C669.3,288.0 670.4,286.9 671.4,285.8 C672.5,284.7 673.6,283.7 674.7,282.8 C675.9,281.8 677.1,280.9 678.4,280.1 C679.8,279.3 681.4,278.5 683.0,278.0 C684.6,277.4 686.3,277.1 688.0,277.0 C689.7,276.9 691.3,277.2 692.9,277.6 C694.5,278.0 696.1,278.7 697.6,279.4 C699.1,280.0 700.4,280.8 701.8,281.5 C703.1,282.3 704.4,283.0 705.7,283.8 C707.0,284.6 708.3,285.4 709.5,286.2 C710.8,287.0 712.0,287.9 713.2,288.7 C714.5,289.5 715.7,290.4 716.9,291.1 C718.2,291.8 719.4,292.3 720.7,292.8 C721.9,293.4 723.2,293.9 724.4,294.4 C725.7,294.9 726.9,295.4 728.2,296.0 C729.4,296.5 730.7,297.0 731.9,297.5 C733.2,298.0 734.6,298.5 735.9,299.0 C737.3,299.5 738.7,299.9 740.1,300.4 C741.5,300.9 743.0,301.3 744.4,301.8 C745.8,302.3 747.2,302.7 748.6,303.2 C749.9,303.7 751.3,304.1 752.6,304.6 C753.8,305.0 755.1,305.5 756.3,306.0 C757.6,306.4 758.8,306.9 760.1,307.3 C761.3,307.8 762.6,308.3 763.8,308.7 C765.1,309.2 766.4,309.7 767.6,310.2 C768.9,310.7 770.2,311.2 771.5,311.7 C772.8,312.3 774.1,312.8 775.4,313.3 C776.7,313.9 778.0,314.4 779.3,315.0 C780.6,315.5 781.9,316.0 783.2,316.6 C784.5,317.1 785.8,317.7 787.1,318.2 C788.3,318.7 789.6,319.2 790.9,319.7 C792.2,320.3 793.5,320.8 794.7,321.3 C796.0,321.8 797.3,322.3 798.5,322.8 C799.8,323.3 801.1,323.8 802.4,324.3 C803.6,324.8 804.9,325.3 806.2,325.8 C807.4,326.3 808.7,326.8 810.0,327.3 C811.2,327.9 812.5,328.5 813.7,329.0 C815.0,329.6 816.2,330.2 817.4,330.7 C818.7,331.3 819.9,331.9 821.2,332.4 C822.5,333.0 823.8,333.5 825.2,334.0 C826.6,334.5 828.1,335.0 829.5,335.5 C830.9,336.0 832.4,336.5 833.8,336.9 C835.3,337.4 836.7,337.8 838.2,338.2 C839.6,338.7 841.1,339.0 842.5,339.4 C843.9,339.8 845.4,340.2 846.8,340.5 C848.3,340.8 849.7,341.2 851.2,341.4 C852.6,341.7 854.1,341.9 855.5,342.1 C856.9,342.4 858.4,342.6 859.8,342.8 C861.3,343.0 862.8,343.2 864.2,343.3 C865.7,343.5 867.2,343.5 868.7,343.6 C870.2,343.7 871.7,343.8 873.1,343.9 C874.6,344.0 876.1,344.1 877.5,344.2 C878.9,344.2 880.3,344.2 881.6,344.3 C883.0,344.3 884.3,344.3 885.7,344.3 C887.0,344.4 888.4,344.4 889.7,344.4 C891.1,344.4 892.4,344.4 893.8,344.5 C895.1,344.5 896.5,344.5 897.8,344.5 C899.2,344.5 900.5,344.5 901.8,344.5 C903.2,344.5 904.5,344.5 905.9,344.5 C907.2,344.5 908.5,344.5 909.9,344.5 C911.2,344.5 912.6,344.5 913.9,344.5 C915.2,344.5 916.6,344.5 917.9,344.5 C919.3,344.5 920.6,344.5 922.0,344.5 C923.3,344.5 924.6,344.5 926.0,344.5 C927.3,344.5 929.3,344.5 930.0,344.5" stroke="#9fe6f0" stroke-width="4.2" fill="none" stroke-opacity="0.6"/><path d="M601.3,349.5 C601.9,349.0 603.9,347.6 605.1,346.8 C606.4,345.9 607.7,344.9 608.9,344.1 C610.1,343.3 611.2,342.6 612.4,341.8 C613.6,341.0 614.6,340.3 615.9,339.6 C617.1,338.8 618.5,338.1 619.9,337.3 C621.3,336.6 623.0,335.8 624.5,335.0 C626.1,334.2 627.7,333.4 629.2,332.6 C630.6,331.8 632.0,331.1 633.3,330.3 C634.5,329.6 635.6,328.9 636.8,328.1 C638.0,327.3 639.1,326.5 640.3,325.6 C641.5,324.7 642.7,323.8 643.8,322.8 C644.9,321.9 646.0,320.8 646.9,319.7 C647.8,318.7 648.6,317.5 649.5,316.4 C650.3,315.2 651.1,314.1 652.0,312.9 C652.8,311.8 653.7,310.7 654.5,309.5 C655.3,308.4 656.1,307.2 656.9,306.1 C657.7,305.0 658.5,303.8 659.2,302.7 C660.0,301.6 660.7,300.5 661.5,299.3 C662.2,298.2 663.0,297.1 663.7,296.0 C664.5,294.8 665.2,293.7 666.0,292.6 C666.8,291.4 667.5,290.3 668.4,289.2 C669.3,288.0 670.4,286.9 671.4,285.8 C672.5,284.7 673.6,283.7 674.7,282.8 C675.9,281.8 677.1,280.9 678.4,280.1 C679.8,279.3 681.4,278.5 683.0,278.0 C684.6,277.4 686.3,277.1 688.0,277.0 C689.7,276.9 691.3,277.2 692.9,277.6 C694.5,278.0 696.1,278.7 697.6,279.4 C699.1,280.0 700.4,280.8 701.8,281.5 C703.1,282.3 704.4,283.0 705.7,283.8 C707.0,284.6 708.3,285.4 709.5,286.2 C710.8,287.0 712.0,287.9 713.2,288.7 C714.5,289.5 715.7,290.4 716.9,291.1 C718.2,291.8 719.4,292.3 720.7,292.8 C721.9,293.4 723.2,293.9 724.4,294.4 C725.7,294.9 726.9,295.4 728.2,296.0 C729.4,296.5 730.7,297.0 731.9,297.5 C733.2,298.0 734.6,298.5 735.9,299.0 C737.3,299.5 738.7,299.9 740.1,300.4 C741.5,300.9 743.0,301.3 744.4,301.8 C745.8,302.3 747.2,302.7 748.6,303.2 C749.9,303.7 751.3,304.1 752.6,304.6 C753.8,305.0 755.1,305.5 756.3,306.0 C757.6,306.4 758.8,306.9 760.1,307.3 C761.3,307.8 762.6,308.3 763.8,308.7 C765.1,309.2 766.4,309.7 767.6,310.2 C768.9,310.7 770.2,311.2 771.5,311.7 C772.8,312.3 774.1,312.8 775.4,313.3 C776.7,313.9 778.0,314.4 779.3,315.0 C780.6,315.5 781.9,316.0 783.2,316.6 C784.5,317.1 785.8,317.7 787.1,318.2 C788.3,318.7 789.6,319.2 790.9,319.7 C792.2,320.3 793.5,320.8 794.7,321.3 C796.0,321.8 797.3,322.3 798.5,322.8 C799.8,323.3 801.1,323.8 802.4,324.3 C803.6,324.8 804.9,325.3 806.2,325.8 C807.4,326.3 808.7,326.8 810.0,327.3 C811.2,327.9 812.5,328.5 813.7,329.0 C815.0,329.6 816.2,330.2 817.4,330.7 C818.7,331.3 819.9,331.9 821.2,332.4 C822.5,333.0 823.8,333.5 825.2,334.0 C826.6,334.5 828.1,335.0 829.5,335.5 C830.9,336.0 832.4,336.5 833.8,336.9 C835.3,337.4 836.7,337.8 838.2,338.2 C839.6,338.7 841.1,339.0 842.5,339.4 C843.9,339.8 845.4,340.2 846.8,340.5 C848.3,340.8 849.7,341.2 851.2,341.4 C852.6,341.7 854.1,341.9 855.5,342.1 C856.9,342.4 858.4,342.6 859.8,342.8 C861.3,343.0 862.8,343.2 864.2,343.3 C865.7,343.5 867.2,343.5 868.7,343.6 C870.2,343.7 871.7,343.8 873.1,343.9 C874.6,344.0 876.1,344.1 877.5,344.2 C878.9,344.2 880.3,344.2 881.6,344.3 C883.0,344.3 884.3,344.3 885.7,344.3 C887.0,344.4 888.4,344.4 889.7,344.4 C891.1,344.4 892.4,344.4 893.8,344.5 C895.1,344.5 896.5,344.5 897.8,344.5 C899.2,344.5 900.5,344.5 901.8,344.5 C903.2,344.5 904.5,344.5 905.9,344.5 C907.2,344.5 908.5,344.5 909.9,344.5 C911.2,344.5 912.6,344.5 913.9,344.5 C915.2,344.5 916.6,344.5 917.9,344.5 C919.3,344.5 920.6,344.5 922.0,344.5 C923.3,344.5 924.6,344.5 926.0,344.5 C927.3,344.5 929.3,344.5 930.0,344.5" stroke="#3d96a3" stroke-width="2.3" fill="none" stroke-linejoin="round"/>
<path d="M601.3,349.5 C601.5,348.9 602.3,346.9 602.7,345.6 C603.2,344.3 603.7,343.1 604.2,341.8 C604.6,340.5 605.1,339.2 605.6,337.9 C606.1,336.6 606.5,335.3 607.0,334.0 C607.5,332.7 608.0,331.5 608.4,330.2 C608.9,328.9 609.4,327.6 609.9,326.3 C610.3,325.0 610.8,323.7 611.3,322.4 C611.8,321.2 612.2,319.9 612.7,318.6 C613.2,317.3 613.6,316.1 614.1,314.8 C614.6,313.5 615.1,312.3 615.5,311.0 C616.0,309.7 616.5,308.5 616.9,307.2 C617.4,305.9 617.9,304.7 618.4,303.4 C618.8,302.1 619.3,300.9 619.8,299.6 C620.2,298.3 620.7,297.1 621.2,295.8 C621.7,294.5 622.1,293.3 622.6,292.0 C623.1,290.7 623.6,289.3 624.1,288.0 C624.6,286.7 625.2,285.3 625.7,284.0 C626.2,282.7 626.7,281.3 627.2,280.0 C627.7,278.7 628.2,277.3 628.8,276.0 C629.3,274.7 629.8,273.3 630.3,272.0 C630.8,270.7 631.3,269.3 631.8,268.0 C632.3,266.7 632.9,265.4 633.4,264.2 C633.9,262.9 634.4,261.7 634.9,260.5 C635.5,259.2 636.0,258.0 636.5,256.8 C637.0,255.5 637.5,254.3 638.1,253.1 C638.6,251.8 639.1,250.6 639.7,249.4 C640.2,248.2 640.8,247.0 641.5,245.8 C642.2,244.6 642.9,243.5 643.6,242.3 C644.3,241.2 645.1,240.0 645.8,238.9 C646.5,237.7 647.2,236.6 647.9,235.4 C648.7,234.3 649.5,233.1 650.3,232.0 C651.1,230.8 651.9,229.7 652.7,228.5 C653.6,227.4 654.4,226.2 655.2,225.1 C656.1,223.9 656.9,222.8 657.8,221.7 C658.7,220.5 659.6,219.5 660.6,218.4 C661.6,217.3 662.5,216.3 663.5,215.2 C664.5,214.1 665.5,213.0 666.8,212.1 C668.0,211.1 669.4,210.1 670.9,209.3 C672.4,208.5 673.8,207.8 675.7,207.5 C677.5,207.2 679.9,207.2 682.0,207.6 C684.0,208.1 686.4,209.3 688.1,210.2 C689.9,211.2 691.1,212.3 692.3,213.4 C693.6,214.4 694.6,215.4 695.6,216.6 C696.7,217.7 697.6,219.0 698.6,220.2 C699.5,221.4 700.4,222.7 701.3,224.0 C702.1,225.3 702.8,226.5 703.5,227.8 C704.2,229.1 704.7,230.3 705.3,231.6 C705.9,232.8 706.4,234.1 707.0,235.3 C707.6,236.6 708.1,237.9 708.7,239.1 C709.3,240.4 709.9,241.7 710.4,242.9 C711.0,244.2 711.6,245.4 712.2,246.7 C712.9,247.9 713.5,249.2 714.1,250.4 C714.7,251.7 715.3,252.9 716.0,254.2 C716.6,255.4 717.2,256.7 717.8,257.9 C718.5,259.2 719.1,260.4 719.7,261.7 C720.3,262.9 720.9,264.2 721.6,265.4 C722.2,266.6 722.9,267.9 723.5,269.1 C724.2,270.3 724.9,271.5 725.6,272.7 C726.3,273.9 727.0,275.1 727.6,276.3 C728.3,277.4 729.0,278.6 729.7,279.8 C730.4,281.0 731.1,282.2 731.7,283.4 C732.4,284.6 733.1,285.8 733.8,287.0 C734.5,288.2 735.2,289.4 735.9,290.6 C736.5,291.8 737.2,293.0 737.9,294.2 C738.6,295.4 739.3,296.6 740.0,297.8 C740.6,299.0 741.3,300.2 742.0,301.4 C742.7,302.6 743.4,303.8 744.1,305.0 C744.9,306.2 745.7,307.5 746.5,308.8 C747.4,310.0 748.3,311.3 749.2,312.6 C750.2,313.9 751.1,315.2 752.1,316.4 C753.1,317.7 754.1,318.9 755.1,320.1 C756.2,321.4 757.2,322.6 758.3,323.8 C759.3,324.9 760.4,326.1 761.6,327.2 C762.7,328.3 763.9,329.4 765.0,330.3 C766.2,331.3 767.4,332.1 768.6,333.0 C769.8,333.9 771.0,334.7 772.2,335.5 C773.4,336.4 774.6,337.2 775.8,338.0 C777.0,338.9 778.2,339.7 779.4,340.5 C780.6,341.3 781.8,342.1 783.0,342.9 C784.2,343.6 785.4,344.3 786.6,345.1 C787.8,345.8 789.0,346.5 790.3,347.2 C791.5,348.0 792.7,348.7 793.9,349.4 C795.1,350.1 796.3,350.9 797.5,351.6 C798.7,352.3 799.9,353.1 801.1,353.8 C802.3,354.5 803.5,355.3 804.6,356.0 C805.8,356.7 807.0,357.5 808.2,358.2 C809.4,358.9 810.6,359.6 811.9,360.2 C813.1,360.9 814.3,361.5 815.6,362.1 C816.8,362.7 818.0,363.3 819.3,363.9 C820.5,364.6 821.8,365.2 823.0,365.8 C824.2,366.4 825.5,367.0 826.7,367.7 C828.0,368.3 829.2,368.9 830.4,369.5 C831.7,370.1 832.9,370.8 834.2,371.3 C835.5,371.9 836.8,372.5 838.2,373.0 C839.6,373.5 841.1,374.0 842.5,374.5 C843.9,375.0 845.4,375.5 846.8,375.9 C848.3,376.4 849.7,376.8 851.2,377.2 C852.6,377.7 854.1,378.0 855.5,378.4 C856.9,378.8 858.4,379.2 859.8,379.5 C861.3,379.8 862.8,380.1 864.2,380.4 C865.7,380.6 867.2,380.8 868.7,381.0 C870.2,381.2 871.7,381.4 873.1,381.6 C874.6,381.8 876.1,382.0 877.5,382.1 C878.9,382.3 880.3,382.3 881.6,382.4 C883.0,382.5 884.3,382.6 885.7,382.6 C887.0,382.7 888.4,382.8 889.7,382.9 C891.1,382.9 892.4,383.0 893.8,383.1 C895.1,383.2 896.5,383.2 897.8,383.3 C899.2,383.3 900.5,383.4 901.9,383.5 C903.2,383.5 904.6,383.6 905.9,383.6 C907.3,383.7 908.6,383.8 910.0,383.8 C911.3,383.9 912.6,383.9 914.0,384.0 C915.3,384.1 916.7,384.2 918.0,384.3 C919.3,384.4 920.7,384.5 922.0,384.6 C923.3,384.8 924.7,384.9 926.0,385.0 C927.3,385.1 929.3,385.2 930.0,385.3" stroke="#ffd0a0" stroke-width="4.2" fill="none" stroke-opacity="0.6"/><path d="M601.3,349.5 C601.5,348.9 602.3,346.9 602.7,345.6 C603.2,344.3 603.7,343.1 604.2,341.8 C604.6,340.5 605.1,339.2 605.6,337.9 C606.1,336.6 606.5,335.3 607.0,334.0 C607.5,332.7 608.0,331.5 608.4,330.2 C608.9,328.9 609.4,327.6 609.9,326.3 C610.3,325.0 610.8,323.7 611.3,322.4 C611.8,321.2 612.2,319.9 612.7,318.6 C613.2,317.3 613.6,316.1 614.1,314.8 C614.6,313.5 615.1,312.3 615.5,311.0 C616.0,309.7 616.5,308.5 616.9,307.2 C617.4,305.9 617.9,304.7 618.4,303.4 C618.8,302.1 619.3,300.9 619.8,299.6 C620.2,298.3 620.7,297.1 621.2,295.8 C621.7,294.5 622.1,293.3 622.6,292.0 C623.1,290.7 623.6,289.3 624.1,288.0 C624.6,286.7 625.2,285.3 625.7,284.0 C626.2,282.7 626.7,281.3 627.2,280.0 C627.7,278.7 628.2,277.3 628.8,276.0 C629.3,274.7 629.8,273.3 630.3,272.0 C630.8,270.7 631.3,269.3 631.8,268.0 C632.3,266.7 632.9,265.4 633.4,264.2 C633.9,262.9 634.4,261.7 634.9,260.5 C635.5,259.2 636.0,258.0 636.5,256.8 C637.0,255.5 637.5,254.3 638.1,253.1 C638.6,251.8 639.1,250.6 639.7,249.4 C640.2,248.2 640.8,247.0 641.5,245.8 C642.2,244.6 642.9,243.5 643.6,242.3 C644.3,241.2 645.1,240.0 645.8,238.9 C646.5,237.7 647.2,236.6 647.9,235.4 C648.7,234.3 649.5,233.1 650.3,232.0 C651.1,230.8 651.9,229.7 652.7,228.5 C653.6,227.4 654.4,226.2 655.2,225.1 C656.1,223.9 656.9,222.8 657.8,221.7 C658.7,220.5 659.6,219.5 660.6,218.4 C661.6,217.3 662.5,216.3 663.5,215.2 C664.5,214.1 665.5,213.0 666.8,212.1 C668.0,211.1 669.4,210.1 670.9,209.3 C672.4,208.5 673.8,207.8 675.7,207.5 C677.5,207.2 679.9,207.2 682.0,207.6 C684.0,208.1 686.4,209.3 688.1,210.2 C689.9,211.2 691.1,212.3 692.3,213.4 C693.6,214.4 694.6,215.4 695.6,216.6 C696.7,217.7 697.6,219.0 698.6,220.2 C699.5,221.4 700.4,222.7 701.3,224.0 C702.1,225.3 702.8,226.5 703.5,227.8 C704.2,229.1 704.7,230.3 705.3,231.6 C705.9,232.8 706.4,234.1 707.0,235.3 C707.6,236.6 708.1,237.9 708.7,239.1 C709.3,240.4 709.9,241.7 710.4,242.9 C711.0,244.2 711.6,245.4 712.2,246.7 C712.9,247.9 713.5,249.2 714.1,250.4 C714.7,251.7 715.3,252.9 716.0,254.2 C716.6,255.4 717.2,256.7 717.8,257.9 C718.5,259.2 719.1,260.4 719.7,261.7 C720.3,262.9 720.9,264.2 721.6,265.4 C722.2,266.6 722.9,267.9 723.5,269.1 C724.2,270.3 724.9,271.5 725.6,272.7 C726.3,273.9 727.0,275.1 727.6,276.3 C728.3,277.4 729.0,278.6 729.7,279.8 C730.4,281.0 731.1,282.2 731.7,283.4 C732.4,284.6 733.1,285.8 733.8,287.0 C734.5,288.2 735.2,289.4 735.9,290.6 C736.5,291.8 737.2,293.0 737.9,294.2 C738.6,295.4 739.3,296.6 740.0,297.8 C740.6,299.0 741.3,300.2 742.0,301.4 C742.7,302.6 743.4,303.8 744.1,305.0 C744.9,306.2 745.7,307.5 746.5,308.8 C747.4,310.0 748.3,311.3 749.2,312.6 C750.2,313.9 751.1,315.2 752.1,316.4 C753.1,317.7 754.1,318.9 755.1,320.1 C756.2,321.4 757.2,322.6 758.3,323.8 C759.3,324.9 760.4,326.1 761.6,327.2 C762.7,328.3 763.9,329.4 765.0,330.3 C766.2,331.3 767.4,332.1 768.6,333.0 C769.8,333.9 771.0,334.7 772.2,335.5 C773.4,336.4 774.6,337.2 775.8,338.0 C777.0,338.9 778.2,339.7 779.4,340.5 C780.6,341.3 781.8,342.1 783.0,342.9 C784.2,343.6 785.4,344.3 786.6,345.1 C787.8,345.8 789.0,346.5 790.3,347.2 C791.5,348.0 792.7,348.7 793.9,349.4 C795.1,350.1 796.3,350.9 797.5,351.6 C798.7,352.3 799.9,353.1 801.1,353.8 C802.3,354.5 803.5,355.3 804.6,356.0 C805.8,356.7 807.0,357.5 808.2,358.2 C809.4,358.9 810.6,359.6 811.9,360.2 C813.1,360.9 814.3,361.5 815.6,362.1 C816.8,362.7 818.0,363.3 819.3,363.9 C820.5,364.6 821.8,365.2 823.0,365.8 C824.2,366.4 825.5,367.0 826.7,367.7 C828.0,368.3 829.2,368.9 830.4,369.5 C831.7,370.1 832.9,370.8 834.2,371.3 C835.5,371.9 836.8,372.5 838.2,373.0 C839.6,373.5 841.1,374.0 842.5,374.5 C843.9,375.0 845.4,375.5 846.8,375.9 C848.3,376.4 849.7,376.8 851.2,377.2 C852.6,377.7 854.1,378.0 855.5,378.4 C856.9,378.8 858.4,379.2 859.8,379.5 C861.3,379.8 862.8,380.1 864.2,380.4 C865.7,380.6 867.2,380.8 868.7,381.0 C870.2,381.2 871.7,381.4 873.1,381.6 C874.6,381.8 876.1,382.0 877.5,382.1 C878.9,382.3 880.3,382.3 881.6,382.4 C883.0,382.5 884.3,382.6 885.7,382.6 C887.0,382.7 888.4,382.8 889.7,382.9 C891.1,382.9 892.4,383.0 893.8,383.1 C895.1,383.2 896.5,383.2 897.8,383.3 C899.2,383.3 900.5,383.4 901.9,383.5 C903.2,383.5 904.6,383.6 905.9,383.6 C907.3,383.7 908.6,383.8 910.0,383.8 C911.3,383.9 912.6,383.9 914.0,384.0 C915.3,384.1 916.7,384.2 918.0,384.3 C919.3,384.4 920.7,384.5 922.0,384.6 C923.3,384.8 924.7,384.9 926.0,385.0 C927.3,385.1 929.3,385.2 930.0,385.3" stroke="#be8a58" stroke-width="2.3" fill="none" stroke-linejoin="round"/>
<path d="M601.3,349.5 C601.9,349.2 603.9,348.5 605.1,348.0 C606.4,347.5 607.7,347.0 609.1,346.4 C610.4,345.8 611.8,345.2 613.3,344.6 C614.7,344.0 616.1,343.3 617.7,342.7 C619.2,342.1 620.9,341.5 622.5,340.9 C624.1,340.3 625.7,339.7 627.2,339.0 C628.7,338.3 630.1,337.6 631.5,336.8 C632.9,336.1 634.2,335.2 635.5,334.3 C636.8,333.3 638.1,332.2 639.3,331.0 C640.5,329.8 641.7,328.5 642.7,327.2 C643.8,326.0 644.7,324.7 645.6,323.4 C646.5,322.2 647.3,321.0 648.0,319.8 C648.8,318.6 649.5,317.4 650.2,316.2 C650.9,315.0 651.5,313.8 652.1,312.5 C652.7,311.2 653.3,309.9 653.8,308.6 C654.4,307.3 655.0,306.0 655.5,304.7 C656.1,303.3 656.7,302.0 657.2,300.7 C657.8,299.4 658.4,298.1 658.9,296.8 C659.5,295.5 660.0,294.2 660.4,292.8 C660.9,291.5 661.3,290.2 661.7,288.9 C662.2,287.6 662.6,286.3 663.0,285.0 C663.5,283.7 663.9,282.4 664.3,281.1 C664.8,279.8 665.2,278.5 665.6,277.2 C666.0,275.9 666.5,274.6 666.9,273.3 C667.4,272.0 667.8,270.7 668.3,269.2 C668.8,267.8 669.3,266.2 669.9,264.7 C670.5,263.2 671.1,261.6 671.7,260.1 C672.3,258.6 673.0,257.2 673.7,255.7 C674.4,254.3 675.1,252.8 675.8,251.5 C676.4,250.1 677.1,248.8 677.8,247.6 C678.4,246.4 679.1,245.2 679.8,244.1 C680.4,242.9 681.0,241.7 681.7,240.6 C682.4,239.4 683.1,238.3 683.9,237.1 C684.7,236.0 685.6,234.8 686.5,233.7 C687.4,232.5 688.3,231.3 689.3,230.3 C690.2,229.2 691.3,228.1 692.4,227.2 C693.5,226.2 694.6,225.3 695.8,224.4 C697.0,223.5 698.2,222.6 699.6,221.8 C700.9,221.0 702.4,220.3 703.9,219.7 C705.4,219.0 707.0,218.4 708.6,217.9 C710.1,217.5 711.8,217.1 713.4,216.9 C715.0,216.6 716.6,216.4 718.1,216.3 C719.6,216.3 720.9,216.5 722.3,216.7 C723.6,216.9 724.9,217.1 726.2,217.5 C727.5,217.8 728.7,218.4 729.8,219.0 C731.0,219.6 732.1,220.5 733.2,221.3 C734.3,222.1 735.4,223.0 736.5,223.9 C737.5,224.8 738.5,225.9 739.4,227.0 C740.4,228.0 741.3,229.1 742.3,230.2 C743.2,231.3 744.1,232.4 745.0,233.5 C745.9,234.5 746.7,235.6 747.6,236.6 C748.4,237.7 749.2,238.7 750.1,239.8 C750.9,240.8 751.7,241.9 752.6,242.9 C753.4,243.9 754.2,245.0 755.1,246.0 C756.0,247.1 756.9,248.2 758.0,249.2 C759.0,250.3 760.1,251.4 761.1,252.4 C762.2,253.5 763.3,254.6 764.4,255.7 C765.4,256.7 766.5,257.8 767.6,258.8 C768.6,259.7 769.6,260.6 770.7,261.5 C771.7,262.3 772.7,263.2 773.7,264.0 C774.8,264.9 775.8,265.7 776.8,266.6 C777.8,267.4 778.9,268.3 779.9,269.2 C780.9,270.0 781.9,270.9 783.0,271.7 C784.0,272.6 785.0,273.5 786.0,274.4 C787.1,275.3 788.1,276.3 789.1,277.2 C790.1,278.2 791.2,279.1 792.2,280.0 C793.2,281.0 794.2,281.9 795.3,282.9 C796.3,283.8 797.3,284.7 798.3,285.7 C799.3,286.6 800.4,287.6 801.4,288.6 C802.3,289.6 803.3,290.7 804.3,291.7 C805.2,292.8 806.2,293.9 807.1,295.0 C808.1,296.0 809.0,297.1 810.0,298.1 C811.0,299.1 811.9,300.1 812.9,301.1 C813.9,302.1 814.8,303.0 815.8,304.0 C816.7,304.9 817.7,305.9 818.7,306.9 C819.6,307.8 820.6,308.8 821.6,309.7 C822.6,310.7 823.7,311.6 824.9,312.5 C826.1,313.4 827.3,314.2 828.6,315.1 C829.8,316.0 831.0,316.9 832.3,317.7 C833.5,318.5 834.8,319.4 836.0,320.1 C837.2,320.9 838.5,321.5 839.7,322.2 C841.0,322.8 842.2,323.4 843.4,324.0 C844.7,324.6 845.9,325.3 847.2,325.9 C848.5,326.4 849.8,327.0 851.2,327.6 C852.6,328.1 854.1,328.6 855.5,329.1 C856.9,329.7 858.4,330.2 859.8,330.7 C861.3,331.1 862.8,331.5 864.2,331.9 C865.7,332.3 867.2,332.5 868.7,332.8 C870.2,333.1 871.7,333.4 873.1,333.7 C874.6,334.0 876.1,334.3 877.5,334.5 C878.9,334.7 880.3,334.8 881.6,334.9 C883.0,335.0 884.3,335.1 885.7,335.2 C887.0,335.3 888.4,335.4 889.7,335.5 C891.1,335.6 892.4,335.7 893.8,335.8 C895.1,335.9 896.5,335.9 897.8,336.0 C899.2,336.1 900.5,336.2 901.9,336.3 C903.2,336.4 904.6,336.5 905.9,336.6 C907.3,336.7 908.6,336.8 910.0,336.9 C911.3,337.0 912.6,337.1 914.0,337.3 C915.3,337.4 916.7,337.6 918.0,337.7 C919.3,337.9 920.7,338.1 922.0,338.2 C923.3,338.4 924.7,338.6 926.0,338.8 C927.3,338.9 929.3,339.2 930.0,339.3" stroke="#d4de94" stroke-width="4.2" fill="none" stroke-opacity="0.6"/><path d="M601.3,349.5 C601.9,349.2 603.9,348.5 605.1,348.0 C606.4,347.5 607.7,347.0 609.1,346.4 C610.4,345.8 611.8,345.2 613.3,344.6 C614.7,344.0 616.1,343.3 617.7,342.7 C619.2,342.1 620.9,341.5 622.5,340.9 C624.1,340.3 625.7,339.7 627.2,339.0 C628.7,338.3 630.1,337.6 631.5,336.8 C632.9,336.1 634.2,335.2 635.5,334.3 C636.8,333.3 638.1,332.2 639.3,331.0 C640.5,329.8 641.7,328.5 642.7,327.2 C643.8,326.0 644.7,324.7 645.6,323.4 C646.5,322.2 647.3,321.0 648.0,319.8 C648.8,318.6 649.5,317.4 650.2,316.2 C650.9,315.0 651.5,313.8 652.1,312.5 C652.7,311.2 653.3,309.9 653.8,308.6 C654.4,307.3 655.0,306.0 655.5,304.7 C656.1,303.3 656.7,302.0 657.2,300.7 C657.8,299.4 658.4,298.1 658.9,296.8 C659.5,295.5 660.0,294.2 660.4,292.8 C660.9,291.5 661.3,290.2 661.7,288.9 C662.2,287.6 662.6,286.3 663.0,285.0 C663.5,283.7 663.9,282.4 664.3,281.1 C664.8,279.8 665.2,278.5 665.6,277.2 C666.0,275.9 666.5,274.6 666.9,273.3 C667.4,272.0 667.8,270.7 668.3,269.2 C668.8,267.8 669.3,266.2 669.9,264.7 C670.5,263.2 671.1,261.6 671.7,260.1 C672.3,258.6 673.0,257.2 673.7,255.7 C674.4,254.3 675.1,252.8 675.8,251.5 C676.4,250.1 677.1,248.8 677.8,247.6 C678.4,246.4 679.1,245.2 679.8,244.1 C680.4,242.9 681.0,241.7 681.7,240.6 C682.4,239.4 683.1,238.3 683.9,237.1 C684.7,236.0 685.6,234.8 686.5,233.7 C687.4,232.5 688.3,231.3 689.3,230.3 C690.2,229.2 691.3,228.1 692.4,227.2 C693.5,226.2 694.6,225.3 695.8,224.4 C697.0,223.5 698.2,222.6 699.6,221.8 C700.9,221.0 702.4,220.3 703.9,219.7 C705.4,219.0 707.0,218.4 708.6,217.9 C710.1,217.5 711.8,217.1 713.4,216.9 C715.0,216.6 716.6,216.4 718.1,216.3 C719.6,216.3 720.9,216.5 722.3,216.7 C723.6,216.9 724.9,217.1 726.2,217.5 C727.5,217.8 728.7,218.4 729.8,219.0 C731.0,219.6 732.1,220.5 733.2,221.3 C734.3,222.1 735.4,223.0 736.5,223.9 C737.5,224.8 738.5,225.9 739.4,227.0 C740.4,228.0 741.3,229.1 742.3,230.2 C743.2,231.3 744.1,232.4 745.0,233.5 C745.9,234.5 746.7,235.6 747.6,236.6 C748.4,237.7 749.2,238.7 750.1,239.8 C750.9,240.8 751.7,241.9 752.6,242.9 C753.4,243.9 754.2,245.0 755.1,246.0 C756.0,247.1 756.9,248.2 758.0,249.2 C759.0,250.3 760.1,251.4 761.1,252.4 C762.2,253.5 763.3,254.6 764.4,255.7 C765.4,256.7 766.5,257.8 767.6,258.8 C768.6,259.7 769.6,260.6 770.7,261.5 C771.7,262.3 772.7,263.2 773.7,264.0 C774.8,264.9 775.8,265.7 776.8,266.6 C777.8,267.4 778.9,268.3 779.9,269.2 C780.9,270.0 781.9,270.9 783.0,271.7 C784.0,272.6 785.0,273.5 786.0,274.4 C787.1,275.3 788.1,276.3 789.1,277.2 C790.1,278.2 791.2,279.1 792.2,280.0 C793.2,281.0 794.2,281.9 795.3,282.9 C796.3,283.8 797.3,284.7 798.3,285.7 C799.3,286.6 800.4,287.6 801.4,288.6 C802.3,289.6 803.3,290.7 804.3,291.7 C805.2,292.8 806.2,293.9 807.1,295.0 C808.1,296.0 809.0,297.1 810.0,298.1 C811.0,299.1 811.9,300.1 812.9,301.1 C813.9,302.1 814.8,303.0 815.8,304.0 C816.7,304.9 817.7,305.9 818.7,306.9 C819.6,307.8 820.6,308.8 821.6,309.7 C822.6,310.7 823.7,311.6 824.9,312.5 C826.1,313.4 827.3,314.2 828.6,315.1 C829.8,316.0 831.0,316.9 832.3,317.7 C833.5,318.5 834.8,319.4 836.0,320.1 C837.2,320.9 838.5,321.5 839.7,322.2 C841.0,322.8 842.2,323.4 843.4,324.0 C844.7,324.6 845.9,325.3 847.2,325.9 C848.5,326.4 849.8,327.0 851.2,327.6 C852.6,328.1 854.1,328.6 855.5,329.1 C856.9,329.7 858.4,330.2 859.8,330.7 C861.3,331.1 862.8,331.5 864.2,331.9 C865.7,332.3 867.2,332.5 868.7,332.8 C870.2,333.1 871.7,333.4 873.1,333.7 C874.6,334.0 876.1,334.3 877.5,334.5 C878.9,334.7 880.3,334.8 881.6,334.9 C883.0,335.0 884.3,335.1 885.7,335.2 C887.0,335.3 888.4,335.4 889.7,335.5 C891.1,335.6 892.4,335.7 893.8,335.8 C895.1,335.9 896.5,335.9 897.8,336.0 C899.2,336.1 900.5,336.2 901.9,336.3 C903.2,336.4 904.6,336.5 905.9,336.6 C907.3,336.7 908.6,336.8 910.0,336.9 C911.3,337.0 912.6,337.1 914.0,337.3 C915.3,337.4 916.7,337.6 918.0,337.7 C919.3,337.9 920.7,338.1 922.0,338.2 C923.3,338.4 924.7,338.6 926.0,338.8 C927.3,338.9 929.3,339.2 930.0,339.3" stroke="#8a9656" stroke-width="2.3" fill="none" stroke-linejoin="round"/>
<path d="M601.3,349.5 C601.6,348.8 602.5,346.9 603.1,345.5 C603.7,344.2 604.2,342.9 604.8,341.6 C605.4,340.3 606.0,339.0 606.6,337.6 C607.2,336.3 607.8,335.0 608.4,333.7 C609.0,332.4 609.5,331.1 610.1,329.8 C610.7,328.4 611.3,327.1 611.9,325.8 C612.5,324.5 613.1,323.2 613.6,321.9 C614.2,320.6 614.8,319.3 615.4,318.0 C616.0,316.7 616.5,315.4 617.1,314.1 C617.7,312.8 618.3,311.5 618.9,310.2 C619.4,308.9 620.0,307.6 620.6,306.3 C621.2,305.0 621.7,303.7 622.3,302.4 C622.9,301.1 623.5,299.8 624.1,298.5 C624.8,297.3 625.4,296.0 626.0,294.8 C626.6,293.5 627.3,292.3 627.9,291.0 C628.5,289.8 629.2,288.5 629.8,287.3 C630.4,286.0 631.0,284.8 631.7,283.5 C632.3,282.3 632.9,281.0 633.5,279.8 C634.2,278.5 634.8,277.3 635.4,276.0 C636.1,274.8 636.7,273.6 637.3,272.4 C638.0,271.2 638.7,270.0 639.4,268.8 C640.1,267.7 640.8,266.5 641.5,265.4 C642.2,264.2 642.9,263.0 643.6,261.9 C644.3,260.7 644.9,259.6 645.6,258.4 C646.3,257.3 647.0,256.1 647.7,254.9 C648.4,253.8 649.1,252.6 649.8,251.5 C650.5,250.3 651.2,249.1 651.9,248.0 C652.5,246.8 653.2,245.6 653.8,244.4 C654.5,243.2 655.1,242.0 655.8,240.7 C656.4,239.5 657.0,238.3 657.7,237.0 C658.3,235.8 658.9,234.5 659.4,233.2 C660.0,231.9 660.6,230.5 661.2,229.2 C661.8,227.9 662.3,226.6 662.9,225.3 C663.5,224.0 664.1,222.6 664.7,221.3 C665.2,220.0 665.8,218.7 666.4,217.3 C666.9,216.0 667.5,214.7 668.1,213.4 C668.7,212.0 669.2,210.7 669.9,209.4 C670.5,208.0 671.2,206.6 671.9,205.2 C672.6,203.9 673.2,202.5 674.0,201.1 C674.8,199.7 675.6,198.4 676.4,197.1 C677.3,195.8 678.2,194.6 679.2,193.3 C680.1,192.0 681.0,190.7 682.2,189.5 C683.4,188.2 684.7,186.8 686.1,185.9 C687.5,185.0 689.1,184.3 690.6,184.1 C692.0,183.9 693.5,184.1 695.0,184.6 C696.4,185.1 697.8,186.1 699.1,186.9 C700.4,187.8 701.6,188.8 702.7,189.7 C703.9,190.6 705.0,191.6 706.2,192.5 C707.3,193.5 708.5,194.4 709.6,195.4 C710.6,196.4 711.7,197.5 712.7,198.5 C713.7,199.5 714.6,200.6 715.5,201.7 C716.4,202.7 717.4,203.8 718.3,204.8 C719.2,205.9 720.2,207.0 721.1,208.0 C722.0,209.1 723.0,210.1 723.9,211.2 C724.9,212.2 725.8,213.3 726.7,214.4 C727.7,215.4 728.6,216.5 729.6,217.5 C730.5,218.6 731.4,219.7 732.4,220.7 C733.3,221.8 734.3,222.8 735.2,223.9 C736.2,224.9 737.1,226.0 738.0,227.0 C739.0,228.1 739.9,229.1 740.9,230.2 C741.8,231.2 742.7,232.3 743.7,233.3 C744.6,234.4 745.6,235.4 746.5,236.5 C747.4,237.5 748.4,238.6 749.3,239.7 C750.2,240.7 751.2,241.8 752.1,242.8 C753.0,243.9 754.0,245.0 754.9,246.0 C755.9,247.1 756.9,248.1 757.9,249.2 C759.0,250.3 760.1,251.4 761.1,252.4 C762.2,253.5 763.3,254.6 764.4,255.7 C765.4,256.7 766.5,257.8 767.6,258.8 C768.6,259.9 769.6,260.8 770.7,261.8 C771.7,262.8 772.7,263.8 773.7,264.8 C774.8,265.7 775.8,266.7 776.8,267.7 C777.8,268.7 778.9,269.6 779.9,270.6 C780.9,271.6 781.9,272.6 783.0,273.5 C784.0,274.5 785.0,275.5 786.0,276.5 C787.1,277.5 788.1,278.5 789.1,279.5 C790.1,280.5 791.2,281.5 792.2,282.5 C793.2,283.5 794.2,284.5 795.3,285.5 C796.3,286.5 797.3,287.5 798.3,288.5 C799.3,289.5 800.4,290.5 801.4,291.5 C802.3,292.5 803.3,293.5 804.3,294.5 C805.2,295.5 806.2,296.5 807.1,297.5 C808.1,298.5 809.1,299.5 810.1,300.5 C811.1,301.5 812.2,302.5 813.3,303.4 C814.3,304.4 815.4,305.4 816.5,306.4 C817.6,307.4 818.7,308.4 819.7,309.3 C820.8,310.3 821.9,311.3 823.0,312.2 C824.1,313.2 825.2,314.1 826.2,314.9 C827.3,315.8 828.4,316.7 829.5,317.6 C830.6,318.5 831.7,319.4 832.8,320.2 C833.8,321.1 834.9,322.0 836.0,322.8 C837.1,323.7 838.2,324.5 839.2,325.2 C840.3,326.0 841.4,326.8 842.5,327.6 C843.6,328.4 844.7,329.2 845.8,330.0 C846.9,330.7 847.9,331.5 849.1,332.3 C850.3,333.1 851.5,334.0 852.7,334.8 C853.9,335.6 855.2,336.5 856.4,337.3 C857.7,338.2 858.9,339.0 860.2,339.8 C861.4,340.6 862.7,341.4 864.0,342.2 C865.2,342.9 866.6,343.6 867.9,344.3 C869.1,345.0 870.5,345.8 871.7,346.5 C873.0,347.2 874.4,347.9 875.6,348.6 C876.9,349.3 878.2,349.9 879.4,350.5 C880.6,351.1 881.8,351.6 883.1,352.2 C884.3,352.7 885.5,353.3 886.7,353.8 C887.9,354.4 889.1,355.0 890.3,355.5 C891.6,356.1 892.8,356.6 894.0,357.2 C895.2,357.7 896.4,358.3 897.6,358.9 C898.8,359.5 900.0,360.1 901.3,360.7 C902.5,361.3 903.7,361.9 904.9,362.5 C906.1,363.2 907.3,363.8 908.5,364.4 C909.8,365.0 911.0,365.6 912.2,366.2 C913.4,366.8 914.7,367.5 916.0,368.1 C917.3,368.7 918.7,369.4 920.0,370.1 C921.3,370.7 922.7,371.4 924.0,372.0 C925.3,372.7 927.0,373.5 928.0,374.0 C929.0,374.5 929.7,374.8 930.0,375.0" stroke="#ffffa8" stroke-width="4.5" fill="none" stroke-opacity="0.6"/><path d="M601.3,349.5 C601.6,348.8 602.5,346.9 603.1,345.5 C603.7,344.2 604.2,342.9 604.8,341.6 C605.4,340.3 606.0,339.0 606.6,337.6 C607.2,336.3 607.8,335.0 608.4,333.7 C609.0,332.4 609.5,331.1 610.1,329.8 C610.7,328.4 611.3,327.1 611.9,325.8 C612.5,324.5 613.1,323.2 613.6,321.9 C614.2,320.6 614.8,319.3 615.4,318.0 C616.0,316.7 616.5,315.4 617.1,314.1 C617.7,312.8 618.3,311.5 618.9,310.2 C619.4,308.9 620.0,307.6 620.6,306.3 C621.2,305.0 621.7,303.7 622.3,302.4 C622.9,301.1 623.5,299.8 624.1,298.5 C624.8,297.3 625.4,296.0 626.0,294.8 C626.6,293.5 627.3,292.3 627.9,291.0 C628.5,289.8 629.2,288.5 629.8,287.3 C630.4,286.0 631.0,284.8 631.7,283.5 C632.3,282.3 632.9,281.0 633.5,279.8 C634.2,278.5 634.8,277.3 635.4,276.0 C636.1,274.8 636.7,273.6 637.3,272.4 C638.0,271.2 638.7,270.0 639.4,268.8 C640.1,267.7 640.8,266.5 641.5,265.4 C642.2,264.2 642.9,263.0 643.6,261.9 C644.3,260.7 644.9,259.6 645.6,258.4 C646.3,257.3 647.0,256.1 647.7,254.9 C648.4,253.8 649.1,252.6 649.8,251.5 C650.5,250.3 651.2,249.1 651.9,248.0 C652.5,246.8 653.2,245.6 653.8,244.4 C654.5,243.2 655.1,242.0 655.8,240.7 C656.4,239.5 657.0,238.3 657.7,237.0 C658.3,235.8 658.9,234.5 659.4,233.2 C660.0,231.9 660.6,230.5 661.2,229.2 C661.8,227.9 662.3,226.6 662.9,225.3 C663.5,224.0 664.1,222.6 664.7,221.3 C665.2,220.0 665.8,218.7 666.4,217.3 C666.9,216.0 667.5,214.7 668.1,213.4 C668.7,212.0 669.2,210.7 669.9,209.4 C670.5,208.0 671.2,206.6 671.9,205.2 C672.6,203.9 673.2,202.5 674.0,201.1 C674.8,199.7 675.6,198.4 676.4,197.1 C677.3,195.8 678.2,194.6 679.2,193.3 C680.1,192.0 681.0,190.7 682.2,189.5 C683.4,188.2 684.7,186.8 686.1,185.9 C687.5,185.0 689.1,184.3 690.6,184.1 C692.0,183.9 693.5,184.1 695.0,184.6 C696.4,185.1 697.8,186.1 699.1,186.9 C700.4,187.8 701.6,188.8 702.7,189.7 C703.9,190.6 705.0,191.6 706.2,192.5 C707.3,193.5 708.5,194.4 709.6,195.4 C710.6,196.4 711.7,197.5 712.7,198.5 C713.7,199.5 714.6,200.6 715.5,201.7 C716.4,202.7 717.4,203.8 718.3,204.8 C719.2,205.9 720.2,207.0 721.1,208.0 C722.0,209.1 723.0,210.1 723.9,211.2 C724.9,212.2 725.8,213.3 726.7,214.4 C727.7,215.4 728.6,216.5 729.6,217.5 C730.5,218.6 731.4,219.7 732.4,220.7 C733.3,221.8 734.3,222.8 735.2,223.9 C736.2,224.9 737.1,226.0 738.0,227.0 C739.0,228.1 739.9,229.1 740.9,230.2 C741.8,231.2 742.7,232.3 743.7,233.3 C744.6,234.4 745.6,235.4 746.5,236.5 C747.4,237.5 748.4,238.6 749.3,239.7 C750.2,240.7 751.2,241.8 752.1,242.8 C753.0,243.9 754.0,245.0 754.9,246.0 C755.9,247.1 756.9,248.1 757.9,249.2 C759.0,250.3 760.1,251.4 761.1,252.4 C762.2,253.5 763.3,254.6 764.4,255.7 C765.4,256.7 766.5,257.8 767.6,258.8 C768.6,259.9 769.6,260.8 770.7,261.8 C771.7,262.8 772.7,263.8 773.7,264.8 C774.8,265.7 775.8,266.7 776.8,267.7 C777.8,268.7 778.9,269.6 779.9,270.6 C780.9,271.6 781.9,272.6 783.0,273.5 C784.0,274.5 785.0,275.5 786.0,276.5 C787.1,277.5 788.1,278.5 789.1,279.5 C790.1,280.5 791.2,281.5 792.2,282.5 C793.2,283.5 794.2,284.5 795.3,285.5 C796.3,286.5 797.3,287.5 798.3,288.5 C799.3,289.5 800.4,290.5 801.4,291.5 C802.3,292.5 803.3,293.5 804.3,294.5 C805.2,295.5 806.2,296.5 807.1,297.5 C808.1,298.5 809.1,299.5 810.1,300.5 C811.1,301.5 812.2,302.5 813.3,303.4 C814.3,304.4 815.4,305.4 816.5,306.4 C817.6,307.4 818.7,308.4 819.7,309.3 C820.8,310.3 821.9,311.3 823.0,312.2 C824.1,313.2 825.2,314.1 826.2,314.9 C827.3,315.8 828.4,316.7 829.5,317.6 C830.6,318.5 831.7,319.4 832.8,320.2 C833.8,321.1 834.9,322.0 836.0,322.8 C837.1,323.7 838.2,324.5 839.2,325.2 C840.3,326.0 841.4,326.8 842.5,327.6 C843.6,328.4 844.7,329.2 845.8,330.0 C846.9,330.7 847.9,331.5 849.1,332.3 C850.3,333.1 851.5,334.0 852.7,334.8 C853.9,335.6 855.2,336.5 856.4,337.3 C857.7,338.2 858.9,339.0 860.2,339.8 C861.4,340.6 862.7,341.4 864.0,342.2 C865.2,342.9 866.6,343.6 867.9,344.3 C869.1,345.0 870.5,345.8 871.7,346.5 C873.0,347.2 874.4,347.9 875.6,348.6 C876.9,349.3 878.2,349.9 879.4,350.5 C880.6,351.1 881.8,351.6 883.1,352.2 C884.3,352.7 885.5,353.3 886.7,353.8 C887.9,354.4 889.1,355.0 890.3,355.5 C891.6,356.1 892.8,356.6 894.0,357.2 C895.2,357.7 896.4,358.3 897.6,358.9 C898.8,359.5 900.0,360.1 901.3,360.7 C902.5,361.3 903.7,361.9 904.9,362.5 C906.1,363.2 907.3,363.8 908.5,364.4 C909.8,365.0 911.0,365.6 912.2,366.2 C913.4,366.8 914.7,367.5 916.0,368.1 C917.3,368.7 918.7,369.4 920.0,370.1 C921.3,370.7 922.7,371.4 924.0,372.0 C925.3,372.7 927.0,373.5 928.0,374.0 C929.0,374.5 929.7,374.8 930.0,375.0" stroke="#f3f364" stroke-width="2.6" fill="none" stroke-linejoin="round"/>
<path d="M601.3,349.5 C601.6,348.8 602.3,346.9 602.9,345.6 C603.4,344.3 603.9,342.9 604.4,341.6 C605.0,340.3 605.5,339.0 606.0,337.7 C606.5,336.4 607.1,335.1 607.6,333.8 C608.1,332.5 608.6,331.1 609.2,329.8 C609.7,328.5 610.2,327.2 610.7,325.9 C611.3,324.6 611.8,323.3 612.3,322.0 C612.8,320.7 613.3,319.4 613.8,318.1 C614.4,316.9 614.8,315.6 615.3,314.4 C615.9,313.1 616.3,311.9 616.9,310.6 C617.4,309.4 617.8,308.1 618.3,306.9 C618.8,305.6 619.4,304.4 619.9,303.1 C620.4,301.9 620.9,300.6 621.3,299.4 C621.8,298.1 622.4,296.9 622.8,295.6 C623.3,294.4 623.9,293.1 624.3,291.9 C624.8,290.6 625.3,289.4 625.8,288.1 C626.3,286.9 626.8,285.6 627.3,284.4 C627.8,283.1 628.3,281.9 628.8,280.6 C629.3,279.4 629.8,278.1 630.3,276.9 C630.8,275.6 631.3,274.4 631.8,273.1 C632.3,271.9 632.8,270.6 633.3,269.4 C633.8,268.1 634.3,266.9 634.8,265.6 C635.3,264.4 635.8,263.1 636.3,261.9 C636.8,260.6 637.3,259.3 637.8,258.0 C638.3,256.7 638.9,255.3 639.4,254.0 C639.9,252.7 640.5,251.3 641.0,250.0 C641.5,248.7 642.1,247.3 642.6,246.0 C643.1,244.7 643.7,243.3 644.2,242.0 C644.7,240.7 645.2,239.4 645.8,238.1 C646.3,236.7 646.8,235.4 647.3,234.1 C647.8,232.8 648.3,231.5 648.9,230.2 C649.4,228.9 649.9,227.6 650.4,226.3 C650.9,225.0 651.4,223.7 652.0,222.4 C652.5,221.1 653.0,219.8 653.5,218.5 C654.0,217.2 654.5,215.9 655.0,214.6 C655.4,213.4 655.9,212.1 656.4,210.8 C656.9,209.5 657.4,208.2 657.9,206.9 C658.3,205.7 658.8,204.4 659.3,203.1 C659.8,201.8 660.3,200.5 660.8,199.2 C661.3,197.9 661.9,196.5 662.4,195.1 C663.0,193.7 663.6,192.2 664.2,190.8 C664.8,189.4 665.4,188.0 666.0,186.6 C666.6,185.3 667.2,184.0 667.7,182.8 C668.3,181.5 668.9,180.2 669.5,178.9 C670.1,177.6 670.7,176.1 671.3,174.7 C671.9,173.3 672.5,171.9 673.3,170.5 C674.0,169.1 674.9,167.6 675.7,166.2 C676.5,164.9 677.4,163.5 678.3,162.3 C679.2,161.1 680.0,159.9 681.3,158.8 C682.5,157.8 684.0,156.5 685.7,156.0 C687.5,155.4 690.0,155.3 691.7,155.7 C693.5,156.0 695.0,157.1 696.4,158.1 C697.8,159.1 698.9,160.4 700.1,161.6 C701.3,162.8 702.4,164.0 703.5,165.2 C704.6,166.3 705.6,167.5 706.6,168.6 C707.7,169.7 708.7,170.9 709.7,172.0 C710.7,173.1 711.6,174.2 712.6,175.3 C713.6,176.4 714.6,177.6 715.7,178.7 C716.7,179.8 717.8,181.0 718.8,182.1 C719.8,183.2 720.8,184.4 721.7,185.5 C722.6,186.6 723.4,187.7 724.2,188.9 C725.0,190.0 725.8,191.1 726.5,192.4 C727.2,193.6 728.0,194.8 728.6,196.1 C729.3,197.5 730.0,198.9 730.6,200.3 C731.2,201.7 731.8,203.0 732.3,204.4 C732.9,205.7 733.3,206.9 733.9,208.3 C734.5,209.6 735.2,211.0 735.9,212.4 C736.6,213.7 737.3,215.1 738.0,216.5 C738.7,217.9 739.4,219.4 740.1,220.8 C740.9,222.2 741.6,223.6 742.3,225.0 C743.0,226.4 743.7,227.7 744.4,229.0 C745.1,230.4 745.8,231.7 746.5,233.0 C747.2,234.3 747.9,235.5 748.6,236.8 C749.3,238.0 750.0,239.3 750.8,240.5 C751.6,241.6 752.4,242.7 753.2,243.8 C754.1,244.8 754.9,245.9 755.8,246.9 C756.7,248.0 757.6,249.0 758.6,250.0 C759.6,251.0 760.6,252.0 761.7,253.1 C762.7,254.1 763.8,255.1 764.8,256.1 C765.8,257.1 766.8,258.2 767.9,259.2 C768.9,260.3 769.9,261.3 770.9,262.4 C772.0,263.4 773.0,264.4 774.0,265.5 C775.0,266.5 776.0,267.5 777.0,268.4 C778.0,269.4 779.0,270.4 780.0,271.4 C781.0,272.4 782.0,273.3 783.0,274.3 C784.0,275.3 785.0,276.3 786.0,277.3 C787.1,278.4 788.1,279.4 789.1,280.4 C790.1,281.4 791.2,282.5 792.2,283.5 C793.2,284.5 794.2,285.5 795.3,286.6 C796.3,287.6 797.3,288.6 798.3,289.6 C799.4,290.7 800.4,291.7 801.5,292.7 C802.6,293.8 803.7,294.9 804.8,295.9 C806.0,297.0 807.1,298.1 808.3,299.2 C809.4,300.2 810.5,301.2 811.6,302.2 C812.7,303.2 813.8,304.2 814.9,305.2 C816.0,306.2 817.0,307.1 818.1,308.1 C819.2,309.1 820.3,310.1 821.4,311.0 C822.5,312.0 823.5,312.9 824.6,313.8 C825.7,314.7 826.8,315.5 827.9,316.4 C829.0,317.3 830.0,318.1 831.1,319.0 C832.2,319.9 833.3,320.7 834.4,321.6 C835.5,322.5 836.7,323.3 837.9,324.2 C839.1,325.1 840.3,325.9 841.6,326.8 C842.8,327.7 844.0,328.5 845.3,329.4 C846.5,330.2 847.8,331.1 849.0,331.9 C850.2,332.7 851.5,333.4 852.7,334.1 C854.0,334.8 855.2,335.5 856.4,336.2 C857.7,336.9 858.9,337.6 860.2,338.2 C861.4,338.9 862.7,339.4 864.0,340.0 C865.2,340.5 866.6,341.0 867.9,341.4 C869.1,341.9 870.4,342.4 871.8,342.9 C873.1,343.3 874.3,343.8 875.7,344.3 C877.0,344.7 878.3,345.2 879.6,345.6 C881.0,346.0 882.3,346.3 883.7,346.7 C885.0,347.1 886.4,347.5 887.7,347.9 C889.1,348.3 890.4,348.7 891.8,349.0 C893.1,349.4 894.5,349.8 895.8,350.2 C897.1,350.6 898.5,351.0 899.8,351.4 C901.2,351.7 902.5,352.1 903.9,352.5 C905.2,352.9 906.6,353.3 907.9,353.7 C909.3,354.1 910.6,354.4 912.0,354.8 C913.3,355.2 914.7,355.6 916.0,356.0 C917.3,356.4 918.7,356.8 920.0,357.2 C921.3,357.6 922.7,358.0 924.0,358.4 C925.3,358.8 927.0,359.3 928.0,359.6 C929.0,359.9 929.7,360.1 930.0,360.2" stroke="#ff5a4a" stroke-width="4.0" fill="none" stroke-opacity="0.6"/><path d="M601.3,349.5 C601.6,348.8 602.3,346.9 602.9,345.6 C603.4,344.3 603.9,342.9 604.4,341.6 C605.0,340.3 605.5,339.0 606.0,337.7 C606.5,336.4 607.1,335.1 607.6,333.8 C608.1,332.5 608.6,331.1 609.2,329.8 C609.7,328.5 610.2,327.2 610.7,325.9 C611.3,324.6 611.8,323.3 612.3,322.0 C612.8,320.7 613.3,319.4 613.8,318.1 C614.4,316.9 614.8,315.6 615.3,314.4 C615.9,313.1 616.3,311.9 616.9,310.6 C617.4,309.4 617.8,308.1 618.3,306.9 C618.8,305.6 619.4,304.4 619.9,303.1 C620.4,301.9 620.9,300.6 621.3,299.4 C621.8,298.1 622.4,296.9 622.8,295.6 C623.3,294.4 623.9,293.1 624.3,291.9 C624.8,290.6 625.3,289.4 625.8,288.1 C626.3,286.9 626.8,285.6 627.3,284.4 C627.8,283.1 628.3,281.9 628.8,280.6 C629.3,279.4 629.8,278.1 630.3,276.9 C630.8,275.6 631.3,274.4 631.8,273.1 C632.3,271.9 632.8,270.6 633.3,269.4 C633.8,268.1 634.3,266.9 634.8,265.6 C635.3,264.4 635.8,263.1 636.3,261.9 C636.8,260.6 637.3,259.3 637.8,258.0 C638.3,256.7 638.9,255.3 639.4,254.0 C639.9,252.7 640.5,251.3 641.0,250.0 C641.5,248.7 642.1,247.3 642.6,246.0 C643.1,244.7 643.7,243.3 644.2,242.0 C644.7,240.7 645.2,239.4 645.8,238.1 C646.3,236.7 646.8,235.4 647.3,234.1 C647.8,232.8 648.3,231.5 648.9,230.2 C649.4,228.9 649.9,227.6 650.4,226.3 C650.9,225.0 651.4,223.7 652.0,222.4 C652.5,221.1 653.0,219.8 653.5,218.5 C654.0,217.2 654.5,215.9 655.0,214.6 C655.4,213.4 655.9,212.1 656.4,210.8 C656.9,209.5 657.4,208.2 657.9,206.9 C658.3,205.7 658.8,204.4 659.3,203.1 C659.8,201.8 660.3,200.5 660.8,199.2 C661.3,197.9 661.9,196.5 662.4,195.1 C663.0,193.7 663.6,192.2 664.2,190.8 C664.8,189.4 665.4,188.0 666.0,186.6 C666.6,185.3 667.2,184.0 667.7,182.8 C668.3,181.5 668.9,180.2 669.5,178.9 C670.1,177.6 670.7,176.1 671.3,174.7 C671.9,173.3 672.5,171.9 673.3,170.5 C674.0,169.1 674.9,167.6 675.7,166.2 C676.5,164.9 677.4,163.5 678.3,162.3 C679.2,161.1 680.0,159.9 681.3,158.8 C682.5,157.8 684.0,156.5 685.7,156.0 C687.5,155.4 690.0,155.3 691.7,155.7 C693.5,156.0 695.0,157.1 696.4,158.1 C697.8,159.1 698.9,160.4 700.1,161.6 C701.3,162.8 702.4,164.0 703.5,165.2 C704.6,166.3 705.6,167.5 706.6,168.6 C707.7,169.7 708.7,170.9 709.7,172.0 C710.7,173.1 711.6,174.2 712.6,175.3 C713.6,176.4 714.6,177.6 715.7,178.7 C716.7,179.8 717.8,181.0 718.8,182.1 C719.8,183.2 720.8,184.4 721.7,185.5 C722.6,186.6 723.4,187.7 724.2,188.9 C725.0,190.0 725.8,191.1 726.5,192.4 C727.2,193.6 728.0,194.8 728.6,196.1 C729.3,197.5 730.0,198.9 730.6,200.3 C731.2,201.7 731.8,203.0 732.3,204.4 C732.9,205.7 733.3,206.9 733.9,208.3 C734.5,209.6 735.2,211.0 735.9,212.4 C736.6,213.7 737.3,215.1 738.0,216.5 C738.7,217.9 739.4,219.4 740.1,220.8 C740.9,222.2 741.6,223.6 742.3,225.0 C743.0,226.4 743.7,227.7 744.4,229.0 C745.1,230.4 745.8,231.7 746.5,233.0 C747.2,234.3 747.9,235.5 748.6,236.8 C749.3,238.0 750.0,239.3 750.8,240.5 C751.6,241.6 752.4,242.7 753.2,243.8 C754.1,244.8 754.9,245.9 755.8,246.9 C756.7,248.0 757.6,249.0 758.6,250.0 C759.6,251.0 760.6,252.0 761.7,253.1 C762.7,254.1 763.8,255.1 764.8,256.1 C765.8,257.1 766.8,258.2 767.9,259.2 C768.9,260.3 769.9,261.3 770.9,262.4 C772.0,263.4 773.0,264.4 774.0,265.5 C775.0,266.5 776.0,267.5 777.0,268.4 C778.0,269.4 779.0,270.4 780.0,271.4 C781.0,272.4 782.0,273.3 783.0,274.3 C784.0,275.3 785.0,276.3 786.0,277.3 C787.1,278.4 788.1,279.4 789.1,280.4 C790.1,281.4 791.2,282.5 792.2,283.5 C793.2,284.5 794.2,285.5 795.3,286.6 C796.3,287.6 797.3,288.6 798.3,289.6 C799.4,290.7 800.4,291.7 801.5,292.7 C802.6,293.8 803.7,294.9 804.8,295.9 C806.0,297.0 807.1,298.1 808.3,299.2 C809.4,300.2 810.5,301.2 811.6,302.2 C812.7,303.2 813.8,304.2 814.9,305.2 C816.0,306.2 817.0,307.1 818.1,308.1 C819.2,309.1 820.3,310.1 821.4,311.0 C822.5,312.0 823.5,312.9 824.6,313.8 C825.7,314.7 826.8,315.5 827.9,316.4 C829.0,317.3 830.0,318.1 831.1,319.0 C832.2,319.9 833.3,320.7 834.4,321.6 C835.5,322.5 836.7,323.3 837.9,324.2 C839.1,325.1 840.3,325.9 841.6,326.8 C842.8,327.7 844.0,328.5 845.3,329.4 C846.5,330.2 847.8,331.1 849.0,331.9 C850.2,332.7 851.5,333.4 852.7,334.1 C854.0,334.8 855.2,335.5 856.4,336.2 C857.7,336.9 858.9,337.6 860.2,338.2 C861.4,338.9 862.7,339.4 864.0,340.0 C865.2,340.5 866.6,341.0 867.9,341.4 C869.1,341.9 870.4,342.4 871.8,342.9 C873.1,343.3 874.3,343.8 875.7,344.3 C877.0,344.7 878.3,345.2 879.6,345.6 C881.0,346.0 882.3,346.3 883.7,346.7 C885.0,347.1 886.4,347.5 887.7,347.9 C889.1,348.3 890.4,348.7 891.8,349.0 C893.1,349.4 894.5,349.8 895.8,350.2 C897.1,350.6 898.5,351.0 899.8,351.4 C901.2,351.7 902.5,352.1 903.9,352.5 C905.2,352.9 906.6,353.3 907.9,353.7 C909.3,354.1 910.6,354.4 912.0,354.8 C913.3,355.2 914.7,355.6 916.0,356.0 C917.3,356.4 918.7,356.8 920.0,357.2 C921.3,357.6 922.7,358.0 924.0,358.4 C925.3,358.8 927.0,359.3 928.0,359.6 C929.0,359.9 929.7,360.1 930.0,360.2" stroke="#9c1226" stroke-width="2.1" fill="none" stroke-linejoin="round"/>
<rect x="818.6" y="152" width="107.8" height="123.3" fill="#fefefe" stroke="#555" stroke-width="1.5"/>
<line x1="828.6" y1="164.8" x2="844.8" y2="164.8" stroke="#8e1426" stroke-width="3.2" stroke-opacity="0.35"/>
<line x1="828.6" y1="164.8" x2="844.8" y2="164.8" stroke="#8e1426" stroke-width="1.5"/>
<text x="845.3" y="168.3" class="lg" textLength="46.4" lengthAdjust="spacingAndGlyphs">глюкоза</text>
<line x1="828.6" y1="189.6" x2="844.8" y2="189.6" stroke="#eaf060" stroke-width="3.2" stroke-opacity="0.35"/>
<line x1="828.6" y1="189.6" x2="844.8" y2="189.6" stroke="#eaf060" stroke-width="1.5"/>
<text x="845.3" y="193.1" class="lg" textLength="62.3" lengthAdjust="spacingAndGlyphs">картофель</text>
<line x1="828.6" y1="214.3" x2="844.8" y2="214.3" stroke="#8a9656" stroke-width="3.2" stroke-opacity="0.35"/>
<line x1="828.6" y1="214.3" x2="844.8" y2="214.3" stroke="#8a9656" stroke-width="1.5"/>
<text x="845.3" y="217.8" class="lg" textLength="69.0" lengthAdjust="spacingAndGlyphs">белый хлеб</text>
<line x1="828.6" y1="238.9" x2="844.8" y2="238.9" stroke="#be8a58" stroke-width="3.2" stroke-opacity="0.35"/>
<line x1="828.6" y1="238.9" x2="844.8" y2="238.9" stroke="#be8a58" stroke-width="1.5"/>
<text x="845.3" y="242.4" class="lg" textLength="48.0" lengthAdjust="spacingAndGlyphs">напиток</text>
<line x1="828.6" y1="262.8" x2="844.8" y2="262.8" stroke="#3d8a98" stroke-width="3.2" stroke-opacity="0.35"/>
<line x1="828.6" y1="262.8" x2="844.8" y2="262.8" stroke="#3d8a98" stroke-width="1.5"/>
<text x="845.3" y="266.3" class="lg" textLength="56.0" lengthAdjust="spacingAndGlyphs">чечевица</text>
<text x="592.2" y="402.3" class="tk" text-anchor="middle">3</text>
<text x="592.2" y="351.7" class="tk" text-anchor="middle">4</text>
<text x="592.2" y="301.1" class="tk" text-anchor="middle">5</text>
<text x="592.2" y="250.4" class="tk" text-anchor="middle">6</text>
<text x="592.2" y="199.8" class="tk" text-anchor="middle">7</text>
<text x="592.2" y="149.1" class="tk" text-anchor="middle">8</text>
<text x="600.6" y="414" class="tk" text-anchor="middle">0</text>
<text x="683.4" y="414" class="tk" text-anchor="middle">30</text>
<text x="765.6" y="414" class="tk" text-anchor="middle">60</text>
<text x="847.9" y="414" class="tk" text-anchor="middle">90</text>
<text x="930.1" y="414" class="tk" text-anchor="middle">120</text>
<text x="745.9" y="426.3" class="ax" textLength="37" lengthAdjust="spacingAndGlyphs">Время(мин)</text>
<text transform="translate(581.9,329) rotate(-90)" class="ax" textLength="94.5" lengthAdjust="spacingAndGlyphs">Уровень глюкозы (ммоль/л)</text>
</g></g>
</g>
</svg>
</body></html>
